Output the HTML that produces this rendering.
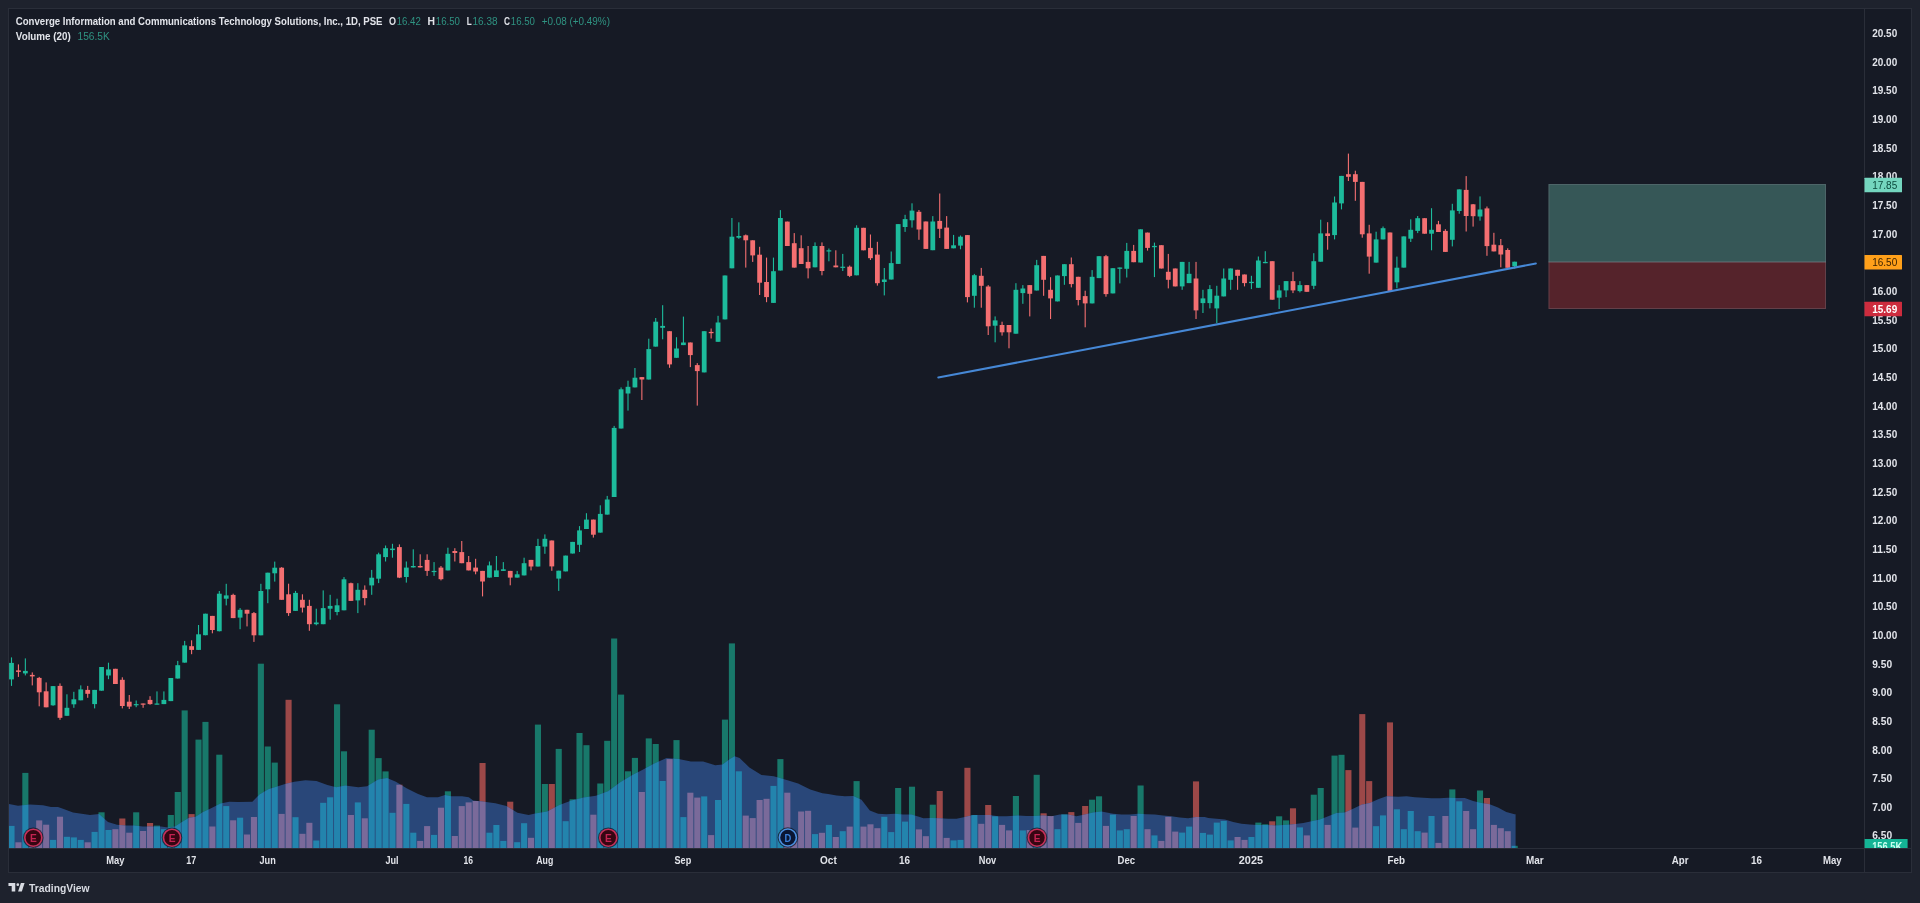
<!DOCTYPE html><html><head><meta charset="utf-8"><style>html,body{margin:0;padding:0;background:#1e222d;overflow:hidden} text{will-change:transform}</style></head><body><svg width="1920" height="903" viewBox="0 0 1920 903" style="display:block">
<rect width="1920" height="903" fill="#1e222d"/>
<rect x="8.5" y="8.5" width="1903" height="864" fill="#161a25" stroke="#2a2e39" stroke-width="1"/>
<defs><clipPath id="pane"><rect x="9" y="9" width="1856" height="839"/></clipPath>
<clipPath id="area"><polygon points="9.0,848.0 9.0,804.0 9.0,804.0 18.0,805.8 30.0,804.6 43.0,805.2 51.0,807.0 58.0,807.0 63.0,808.8 73.0,812.5 85.0,814.3 90.0,815.0 99.0,814.0 108.0,822.0 117.0,824.8 125.0,825.6 134.0,825.6 143.0,826.5 152.0,826.5 161.0,826.5 168.0,827.4 175.0,826.5 182.0,822.0 189.0,817.7 195.6,816.8 202.7,812.3 211.6,807.9 220.5,803.5 229.3,801.7 238.2,802.0 252.4,801.7 259.5,794.6 268.4,789.3 277.2,786.6 285.0,784.0 294.3,781.8 305.4,780.2 316.4,781.1 327.4,785.1 336.3,787.3 345.2,785.5 358.3,787.3 367.1,786.2 378.2,779.6 387.1,778.0 395.9,781.8 407.0,788.4 418.1,794.0 427.0,797.3 438.0,797.3 445.0,795.1 451.1,796.2 462.1,796.2 468.8,797.3 473.2,800.6 484.3,801.7 495.4,803.3 506.4,806.1 517.5,812.8 528.6,815.0 535.2,813.5 547.2,811.5 559.4,804.9 571.5,800.5 583.7,797.6 595.9,795.7 608.1,791.3 620.3,782.3 632.4,775.0 642.2,770.0 654.4,763.5 666.5,757.9 678.7,759.1 690.9,761.5 703.1,761.5 715.3,765.2 722.6,764.5 729.9,759.1 734.7,756.2 739.6,757.9 749.4,767.6 761.5,775.0 773.7,776.2 785.9,779.8 798.1,783.5 810.3,789.6 822.4,793.2 828.3,794.0 836.6,795.5 844.9,796.3 853.2,796.0 861.5,799.7 869.8,810.5 878.1,813.8 886.4,814.3 894.8,813.8 903.1,814.6 911.4,814.6 919.7,817.1 923.3,818.3 931.6,818.0 939.9,818.3 948.2,818.8 956.5,818.8 964.8,817.1 973.1,815.1 981.4,815.1 989.8,815.1 998.1,816.3 1006.4,816.3 1018.3,815.4 1026.6,816.0 1034.9,816.0 1043.2,815.4 1051.5,816.3 1059.8,814.6 1068.1,814.6 1076.4,816.3 1084.8,814.6 1093.1,812.6 1101.4,811.6 1113.3,813.8 1121.6,814.6 1129.9,814.6 1138.2,813.8 1146.5,814.2 1154.8,814.6 1163.1,815.4 1171.4,816.3 1179.8,817.6 1188.1,818.3 1196.4,817.1 1204.7,817.1 1208.3,818.0 1216.6,818.8 1224.9,819.6 1233.2,822.1 1241.5,823.8 1249.8,824.6 1258.1,824.9 1266.4,824.9 1274.8,825.4 1283.1,824.9 1291.4,824.6 1303.3,822.9 1311.6,821.3 1319.9,819.6 1328.2,816.3 1336.5,813.0 1344.8,812.6 1353.1,808.8 1361.4,804.7 1369.8,803.0 1378.1,799.3 1386.4,796.3 1398.3,796.7 1406.6,796.3 1414.9,797.2 1423.2,797.7 1431.5,798.3 1439.8,798.3 1448.1,797.7 1456.4,798.0 1464.8,798.0 1473.1,801.0 1481.4,803.0 1489.7,804.3 1498.0,807.6 1506.3,812.1 1514.6,814.3 1515.6,814.3 1515.6,848.0"/></clipPath></defs>
<g clip-path="url(#pane)">
<rect x="8.45" y="825.9" width="6.1" height="22.1" fill="#18786a"/><rect x="15.38" y="842.3" width="6.1" height="5.7" fill="#9c4848"/><rect x="22.30" y="772.9" width="6.1" height="75.1" fill="#18786a"/><rect x="29.23" y="830.0" width="6.1" height="18.0" fill="#9c4848"/><rect x="36.16" y="820.4" width="6.1" height="27.6" fill="#9c4848"/><rect x="43.09" y="824.7" width="6.1" height="23.3" fill="#9c4848"/><rect x="50.01" y="839.9" width="6.1" height="8.1" fill="#18786a"/><rect x="56.94" y="816.7" width="6.1" height="31.3" fill="#9c4848"/><rect x="63.87" y="836.8" width="6.1" height="11.2" fill="#18786a"/><rect x="70.79" y="837.4" width="6.1" height="10.6" fill="#18786a"/><rect x="77.72" y="839.9" width="6.1" height="8.1" fill="#18786a"/><rect x="84.65" y="842.3" width="6.1" height="5.7" fill="#9c4848"/><rect x="91.57" y="831.9" width="6.1" height="16.1" fill="#18786a"/><rect x="98.50" y="812.3" width="6.1" height="35.7" fill="#18786a"/><rect x="105.43" y="830.0" width="6.1" height="18.0" fill="#18786a"/><rect x="112.36" y="829.2" width="6.1" height="18.8" fill="#9c4848"/><rect x="119.28" y="818.5" width="6.1" height="29.5" fill="#9c4848"/><rect x="126.21" y="832.7" width="6.1" height="15.3" fill="#9c4848"/><rect x="133.14" y="812.3" width="6.1" height="35.7" fill="#18786a"/><rect x="140.06" y="831.0" width="6.1" height="17.0" fill="#9c4848"/><rect x="146.99" y="823.0" width="6.1" height="25.0" fill="#9c4848"/><rect x="153.92" y="825.6" width="6.1" height="22.4" fill="#18786a"/><rect x="160.84" y="829.2" width="6.1" height="18.8" fill="#18786a"/><rect x="167.77" y="815.0" width="6.1" height="33.0" fill="#18786a"/><rect x="174.70" y="792.0" width="6.1" height="56.0" fill="#18786a"/><rect x="181.62" y="710.4" width="6.1" height="137.6" fill="#18786a"/><rect x="188.55" y="814.1" width="6.1" height="33.9" fill="#9c4848"/><rect x="195.48" y="739.6" width="6.1" height="108.4" fill="#18786a"/><rect x="202.41" y="721.9" width="6.1" height="126.1" fill="#18786a"/><rect x="209.33" y="826.5" width="6.1" height="21.5" fill="#9c4848"/><rect x="216.26" y="754.7" width="6.1" height="93.3" fill="#18786a"/><rect x="223.19" y="806.1" width="6.1" height="41.9" fill="#18786a"/><rect x="230.11" y="820.3" width="6.1" height="27.7" fill="#9c4848"/><rect x="237.04" y="817.7" width="6.1" height="30.3" fill="#18786a"/><rect x="243.97" y="834.5" width="6.1" height="13.5" fill="#9c4848"/><rect x="250.89" y="817.0" width="6.1" height="31.0" fill="#9c4848"/><rect x="257.82" y="663.7" width="6.1" height="184.3" fill="#18786a"/><rect x="264.75" y="746.5" width="6.1" height="101.5" fill="#18786a"/><rect x="271.68" y="762.6" width="6.1" height="85.4" fill="#18786a"/><rect x="278.60" y="813.9" width="6.1" height="34.1" fill="#9c4848"/><rect x="285.53" y="699.8" width="6.1" height="148.2" fill="#9c4848"/><rect x="292.46" y="817.2" width="6.1" height="30.8" fill="#18786a"/><rect x="299.38" y="833.8" width="6.1" height="14.2" fill="#9c4848"/><rect x="306.31" y="822.8" width="6.1" height="25.2" fill="#9c4848"/><rect x="313.24" y="840.5" width="6.1" height="7.5" fill="#18786a"/><rect x="320.16" y="802.8" width="6.1" height="45.2" fill="#18786a"/><rect x="327.09" y="797.3" width="6.1" height="50.7" fill="#18786a"/><rect x="334.02" y="704.3" width="6.1" height="143.7" fill="#18786a"/><rect x="340.95" y="751.3" width="6.1" height="96.7" fill="#18786a"/><rect x="347.87" y="815.0" width="6.1" height="33.0" fill="#9c4848"/><rect x="354.80" y="802.4" width="6.1" height="45.6" fill="#18786a"/><rect x="361.73" y="818.3" width="6.1" height="29.7" fill="#9c4848"/><rect x="368.65" y="729.7" width="6.1" height="118.3" fill="#18786a"/><rect x="375.58" y="758.1" width="6.1" height="89.9" fill="#18786a"/><rect x="382.51" y="771.4" width="6.1" height="76.6" fill="#18786a"/><rect x="389.43" y="812.8" width="6.1" height="35.2" fill="#18786a"/><rect x="396.36" y="784.7" width="6.1" height="63.3" fill="#9c4848"/><rect x="403.29" y="803.9" width="6.1" height="44.1" fill="#18786a"/><rect x="410.22" y="832.7" width="6.1" height="15.3" fill="#18786a"/><rect x="417.14" y="840.9" width="6.1" height="7.1" fill="#9c4848"/><rect x="424.07" y="826.1" width="6.1" height="21.9" fill="#9c4848"/><rect x="431.00" y="834.9" width="6.1" height="13.1" fill="#18786a"/><rect x="437.92" y="807.7" width="6.1" height="40.3" fill="#9c4848"/><rect x="444.85" y="791.3" width="6.1" height="56.7" fill="#18786a"/><rect x="451.78" y="836.0" width="6.1" height="12.0" fill="#9c4848"/><rect x="458.70" y="806.1" width="6.1" height="41.9" fill="#9c4848"/><rect x="465.63" y="802.4" width="6.1" height="45.6" fill="#9c4848"/><rect x="472.56" y="801.0" width="6.1" height="47.0" fill="#9c4848"/><rect x="479.49" y="763.0" width="6.1" height="85.0" fill="#9c4848"/><rect x="486.41" y="832.7" width="6.1" height="15.3" fill="#18786a"/><rect x="493.34" y="825.0" width="6.1" height="23.0" fill="#18786a"/><rect x="500.27" y="840.9" width="6.1" height="7.1" fill="#18786a"/><rect x="507.19" y="801.7" width="6.1" height="46.3" fill="#9c4848"/><rect x="514.12" y="842.2" width="6.1" height="5.8" fill="#18786a"/><rect x="521.05" y="823.2" width="6.1" height="24.8" fill="#18786a"/><rect x="527.98" y="837.8" width="6.1" height="10.2" fill="#9c4848"/><rect x="534.90" y="724.6" width="6.1" height="123.4" fill="#18786a"/><rect x="541.83" y="784.0" width="6.1" height="64.0" fill="#18786a"/><rect x="548.76" y="784.0" width="6.1" height="64.0" fill="#9c4848"/><rect x="555.68" y="748.9" width="6.1" height="99.1" fill="#18786a"/><rect x="562.61" y="821.2" width="6.1" height="26.8" fill="#18786a"/><rect x="569.54" y="799.3" width="6.1" height="48.7" fill="#18786a"/><rect x="576.46" y="733.0" width="6.1" height="115.0" fill="#18786a"/><rect x="583.39" y="745.2" width="6.1" height="102.8" fill="#18786a"/><rect x="590.32" y="814.7" width="6.1" height="33.3" fill="#9c4848"/><rect x="597.25" y="783.5" width="6.1" height="64.5" fill="#18786a"/><rect x="604.17" y="740.8" width="6.1" height="107.2" fill="#18786a"/><rect x="611.10" y="638.5" width="6.1" height="209.5" fill="#18786a"/><rect x="618.03" y="694.6" width="6.1" height="153.4" fill="#18786a"/><rect x="624.95" y="771.3" width="6.1" height="76.7" fill="#18786a"/><rect x="631.88" y="757.9" width="6.1" height="90.1" fill="#18786a"/><rect x="638.81" y="792.0" width="6.1" height="56.0" fill="#9c4848"/><rect x="645.73" y="738.4" width="6.1" height="109.6" fill="#18786a"/><rect x="652.66" y="744.0" width="6.1" height="104.0" fill="#18786a"/><rect x="659.59" y="781.0" width="6.1" height="67.0" fill="#18786a"/><rect x="666.51" y="759.1" width="6.1" height="88.9" fill="#9c4848"/><rect x="673.44" y="740.1" width="6.1" height="107.9" fill="#18786a"/><rect x="680.37" y="817.1" width="6.1" height="30.9" fill="#18786a"/><rect x="687.30" y="792.7" width="6.1" height="55.3" fill="#9c4848"/><rect x="694.22" y="797.6" width="6.1" height="50.4" fill="#9c4848"/><rect x="701.15" y="796.4" width="6.1" height="51.6" fill="#18786a"/><rect x="708.08" y="835.1" width="6.1" height="12.9" fill="#9c4848"/><rect x="715.00" y="800.0" width="6.1" height="48.0" fill="#18786a"/><rect x="721.93" y="719.6" width="6.1" height="128.4" fill="#18786a"/><rect x="728.86" y="643.4" width="6.1" height="204.6" fill="#18786a"/><rect x="735.78" y="771.3" width="6.1" height="76.7" fill="#18786a"/><rect x="742.71" y="815.6" width="6.1" height="32.4" fill="#9c4848"/><rect x="749.64" y="818.1" width="6.1" height="29.9" fill="#9c4848"/><rect x="756.57" y="800.0" width="6.1" height="48.0" fill="#9c4848"/><rect x="763.49" y="798.8" width="6.1" height="49.2" fill="#9c4848"/><rect x="770.42" y="785.9" width="6.1" height="62.1" fill="#18786a"/><rect x="777.35" y="759.1" width="6.1" height="88.9" fill="#18786a"/><rect x="784.27" y="792.7" width="6.1" height="55.3" fill="#9c4848"/><rect x="791.20" y="838.0" width="6.1" height="10.0" fill="#9c4848"/><rect x="798.13" y="811.5" width="6.1" height="36.5" fill="#9c4848"/><rect x="805.05" y="810.8" width="6.1" height="37.2" fill="#9c4848"/><rect x="811.98" y="834.1" width="6.1" height="13.9" fill="#18786a"/><rect x="818.91" y="832.8" width="6.1" height="15.2" fill="#9c4848"/><rect x="825.84" y="824.9" width="6.1" height="23.1" fill="#18786a"/><rect x="832.76" y="837.0" width="6.1" height="11.0" fill="#9c4848"/><rect x="839.69" y="831.2" width="6.1" height="16.8" fill="#18786a"/><rect x="846.62" y="826.6" width="6.1" height="21.4" fill="#9c4848"/><rect x="853.54" y="781.1" width="6.1" height="66.9" fill="#18786a"/><rect x="860.47" y="826.6" width="6.1" height="21.4" fill="#9c4848"/><rect x="867.40" y="824.3" width="6.1" height="23.7" fill="#9c4848"/><rect x="874.33" y="828.2" width="6.1" height="19.8" fill="#9c4848"/><rect x="881.25" y="816.8" width="6.1" height="31.2" fill="#18786a"/><rect x="888.18" y="832.1" width="6.1" height="15.9" fill="#18786a"/><rect x="895.11" y="788.0" width="6.1" height="60.0" fill="#18786a"/><rect x="902.03" y="821.6" width="6.1" height="26.4" fill="#18786a"/><rect x="908.96" y="786.7" width="6.1" height="61.3" fill="#18786a"/><rect x="915.89" y="829.4" width="6.1" height="18.6" fill="#9c4848"/><rect x="922.81" y="836.2" width="6.1" height="11.8" fill="#9c4848"/><rect x="929.74" y="804.7" width="6.1" height="43.3" fill="#18786a"/><rect x="936.67" y="791.0" width="6.1" height="57.0" fill="#9c4848"/><rect x="943.60" y="837.9" width="6.1" height="10.1" fill="#9c4848"/><rect x="950.52" y="840.4" width="6.1" height="7.6" fill="#18786a"/><rect x="957.45" y="839.9" width="6.1" height="8.1" fill="#18786a"/><rect x="964.38" y="767.8" width="6.1" height="80.2" fill="#9c4848"/><rect x="971.30" y="815.0" width="6.1" height="33.0" fill="#18786a"/><rect x="978.23" y="823.8" width="6.1" height="24.2" fill="#9c4848"/><rect x="985.16" y="805.0" width="6.1" height="43.0" fill="#9c4848"/><rect x="992.08" y="816.3" width="6.1" height="31.7" fill="#18786a"/><rect x="999.01" y="824.9" width="6.1" height="23.1" fill="#9c4848"/><rect x="1005.94" y="830.4" width="6.1" height="17.6" fill="#9c4848"/><rect x="1012.87" y="796.0" width="6.1" height="52.0" fill="#18786a"/><rect x="1019.79" y="830.4" width="6.1" height="17.6" fill="#18786a"/><rect x="1026.72" y="830.0" width="6.1" height="18.0" fill="#9c4848"/><rect x="1033.65" y="774.8" width="6.1" height="73.2" fill="#18786a"/><rect x="1040.57" y="813.3" width="6.1" height="34.7" fill="#9c4848"/><rect x="1047.50" y="816.0" width="6.1" height="32.0" fill="#9c4848"/><rect x="1054.43" y="829.2" width="6.1" height="18.8" fill="#18786a"/><rect x="1061.35" y="814.3" width="6.1" height="33.7" fill="#18786a"/><rect x="1068.28" y="812.1" width="6.1" height="35.9" fill="#9c4848"/><rect x="1075.21" y="822.9" width="6.1" height="25.1" fill="#9c4848"/><rect x="1082.13" y="806.0" width="6.1" height="42.0" fill="#9c4848"/><rect x="1089.06" y="799.7" width="6.1" height="48.3" fill="#18786a"/><rect x="1095.99" y="796.3" width="6.1" height="51.7" fill="#18786a"/><rect x="1102.92" y="825.9" width="6.1" height="22.1" fill="#9c4848"/><rect x="1109.84" y="814.6" width="6.1" height="33.4" fill="#18786a"/><rect x="1116.77" y="830.4" width="6.1" height="17.6" fill="#18786a"/><rect x="1123.70" y="829.2" width="6.1" height="18.8" fill="#18786a"/><rect x="1130.62" y="816.0" width="6.1" height="32.0" fill="#9c4848"/><rect x="1137.55" y="785.5" width="6.1" height="62.5" fill="#18786a"/><rect x="1144.48" y="829.2" width="6.1" height="18.8" fill="#9c4848"/><rect x="1151.40" y="835.4" width="6.1" height="12.6" fill="#18786a"/><rect x="1158.33" y="840.9" width="6.1" height="7.1" fill="#9c4848"/><rect x="1165.26" y="816.8" width="6.1" height="31.2" fill="#9c4848"/><rect x="1172.19" y="831.6" width="6.1" height="16.4" fill="#9c4848"/><rect x="1179.11" y="832.6" width="6.1" height="15.4" fill="#18786a"/><rect x="1186.04" y="826.6" width="6.1" height="21.4" fill="#18786a"/><rect x="1192.97" y="781.4" width="6.1" height="66.6" fill="#9c4848"/><rect x="1199.89" y="832.9" width="6.1" height="15.1" fill="#18786a"/><rect x="1206.82" y="834.6" width="6.1" height="13.4" fill="#18786a"/><rect x="1213.75" y="822.6" width="6.1" height="25.4" fill="#18786a"/><rect x="1220.67" y="820.9" width="6.1" height="27.1" fill="#18786a"/><rect x="1227.60" y="840.4" width="6.1" height="7.6" fill="#18786a"/><rect x="1234.53" y="837.0" width="6.1" height="11.0" fill="#9c4848"/><rect x="1241.46" y="839.9" width="6.1" height="8.1" fill="#9c4848"/><rect x="1248.38" y="837.0" width="6.1" height="11.0" fill="#18786a"/><rect x="1255.31" y="822.6" width="6.1" height="25.4" fill="#18786a"/><rect x="1262.24" y="824.3" width="6.1" height="23.7" fill="#18786a"/><rect x="1269.16" y="821.3" width="6.1" height="26.7" fill="#9c4848"/><rect x="1276.09" y="816.3" width="6.1" height="31.7" fill="#18786a"/><rect x="1283.02" y="820.4" width="6.1" height="27.6" fill="#18786a"/><rect x="1289.94" y="808.3" width="6.1" height="39.7" fill="#9c4848"/><rect x="1296.87" y="827.4" width="6.1" height="20.6" fill="#18786a"/><rect x="1303.80" y="835.4" width="6.1" height="12.6" fill="#9c4848"/><rect x="1310.73" y="794.7" width="6.1" height="53.3" fill="#18786a"/><rect x="1317.65" y="788.0" width="6.1" height="60.0" fill="#18786a"/><rect x="1324.58" y="824.9" width="6.1" height="23.1" fill="#9c4848"/><rect x="1331.51" y="755.6" width="6.1" height="92.4" fill="#18786a"/><rect x="1338.43" y="754.8" width="6.1" height="93.2" fill="#18786a"/><rect x="1345.36" y="770.1" width="6.1" height="77.9" fill="#9c4848"/><rect x="1352.29" y="827.6" width="6.1" height="20.4" fill="#9c4848"/><rect x="1359.21" y="714.1" width="6.1" height="133.9" fill="#9c4848"/><rect x="1366.14" y="781.1" width="6.1" height="66.9" fill="#9c4848"/><rect x="1373.07" y="826.2" width="6.1" height="21.8" fill="#18786a"/><rect x="1380.00" y="815.4" width="6.1" height="32.6" fill="#18786a"/><rect x="1386.92" y="722.4" width="6.1" height="125.6" fill="#9c4848"/><rect x="1393.85" y="809.3" width="6.1" height="38.7" fill="#18786a"/><rect x="1400.78" y="829.2" width="6.1" height="18.8" fill="#18786a"/><rect x="1407.70" y="811.0" width="6.1" height="37.0" fill="#18786a"/><rect x="1414.63" y="831.2" width="6.1" height="16.8" fill="#18786a"/><rect x="1421.56" y="832.6" width="6.1" height="15.4" fill="#9c4848"/><rect x="1428.48" y="816.0" width="6.1" height="32.0" fill="#18786a"/><rect x="1435.41" y="842.9" width="6.1" height="5.1" fill="#9c4848"/><rect x="1442.34" y="816.0" width="6.1" height="32.0" fill="#9c4848"/><rect x="1449.27" y="789.4" width="6.1" height="58.6" fill="#18786a"/><rect x="1456.19" y="801.3" width="6.1" height="46.7" fill="#18786a"/><rect x="1463.12" y="811.0" width="6.1" height="37.0" fill="#9c4848"/><rect x="1470.05" y="829.2" width="6.1" height="18.8" fill="#9c4848"/><rect x="1476.97" y="790.5" width="6.1" height="57.5" fill="#18786a"/><rect x="1483.90" y="798.0" width="6.1" height="50.0" fill="#9c4848"/><rect x="1490.83" y="824.9" width="6.1" height="23.1" fill="#9c4848"/><rect x="1497.75" y="828.2" width="6.1" height="19.8" fill="#9c4848"/><rect x="1504.68" y="831.2" width="6.1" height="16.8" fill="#9c4848"/><rect x="1511.61" y="845.8" width="6.1" height="2.2" fill="#18786a"/>
<polygon points="9.0,848.0 9.0,804.0 9.0,804.0 18.0,805.8 30.0,804.6 43.0,805.2 51.0,807.0 58.0,807.0 63.0,808.8 73.0,812.5 85.0,814.3 90.0,815.0 99.0,814.0 108.0,822.0 117.0,824.8 125.0,825.6 134.0,825.6 143.0,826.5 152.0,826.5 161.0,826.5 168.0,827.4 175.0,826.5 182.0,822.0 189.0,817.7 195.6,816.8 202.7,812.3 211.6,807.9 220.5,803.5 229.3,801.7 238.2,802.0 252.4,801.7 259.5,794.6 268.4,789.3 277.2,786.6 285.0,784.0 294.3,781.8 305.4,780.2 316.4,781.1 327.4,785.1 336.3,787.3 345.2,785.5 358.3,787.3 367.1,786.2 378.2,779.6 387.1,778.0 395.9,781.8 407.0,788.4 418.1,794.0 427.0,797.3 438.0,797.3 445.0,795.1 451.1,796.2 462.1,796.2 468.8,797.3 473.2,800.6 484.3,801.7 495.4,803.3 506.4,806.1 517.5,812.8 528.6,815.0 535.2,813.5 547.2,811.5 559.4,804.9 571.5,800.5 583.7,797.6 595.9,795.7 608.1,791.3 620.3,782.3 632.4,775.0 642.2,770.0 654.4,763.5 666.5,757.9 678.7,759.1 690.9,761.5 703.1,761.5 715.3,765.2 722.6,764.5 729.9,759.1 734.7,756.2 739.6,757.9 749.4,767.6 761.5,775.0 773.7,776.2 785.9,779.8 798.1,783.5 810.3,789.6 822.4,793.2 828.3,794.0 836.6,795.5 844.9,796.3 853.2,796.0 861.5,799.7 869.8,810.5 878.1,813.8 886.4,814.3 894.8,813.8 903.1,814.6 911.4,814.6 919.7,817.1 923.3,818.3 931.6,818.0 939.9,818.3 948.2,818.8 956.5,818.8 964.8,817.1 973.1,815.1 981.4,815.1 989.8,815.1 998.1,816.3 1006.4,816.3 1018.3,815.4 1026.6,816.0 1034.9,816.0 1043.2,815.4 1051.5,816.3 1059.8,814.6 1068.1,814.6 1076.4,816.3 1084.8,814.6 1093.1,812.6 1101.4,811.6 1113.3,813.8 1121.6,814.6 1129.9,814.6 1138.2,813.8 1146.5,814.2 1154.8,814.6 1163.1,815.4 1171.4,816.3 1179.8,817.6 1188.1,818.3 1196.4,817.1 1204.7,817.1 1208.3,818.0 1216.6,818.8 1224.9,819.6 1233.2,822.1 1241.5,823.8 1249.8,824.6 1258.1,824.9 1266.4,824.9 1274.8,825.4 1283.1,824.9 1291.4,824.6 1303.3,822.9 1311.6,821.3 1319.9,819.6 1328.2,816.3 1336.5,813.0 1344.8,812.6 1353.1,808.8 1361.4,804.7 1369.8,803.0 1378.1,799.3 1386.4,796.3 1398.3,796.7 1406.6,796.3 1414.9,797.2 1423.2,797.7 1431.5,798.3 1439.8,798.3 1448.1,797.7 1456.4,798.0 1464.8,798.0 1473.1,801.0 1481.4,803.0 1489.7,804.3 1498.0,807.6 1506.3,812.1 1514.6,814.3 1515.6,814.3 1515.6,848.0" fill="#294779"/>
<g clip-path="url(#area)"><rect x="8.45" y="825.9" width="6.1" height="22.1" fill="#2384ad"/><rect x="15.38" y="842.3" width="6.1" height="5.7" fill="#7a6a9a"/><rect x="22.30" y="772.9" width="6.1" height="75.1" fill="#2384ad"/><rect x="29.23" y="830.0" width="6.1" height="18.0" fill="#7a6a9a"/><rect x="36.16" y="820.4" width="6.1" height="27.6" fill="#7a6a9a"/><rect x="43.09" y="824.7" width="6.1" height="23.3" fill="#7a6a9a"/><rect x="50.01" y="839.9" width="6.1" height="8.1" fill="#2384ad"/><rect x="56.94" y="816.7" width="6.1" height="31.3" fill="#7a6a9a"/><rect x="63.87" y="836.8" width="6.1" height="11.2" fill="#2384ad"/><rect x="70.79" y="837.4" width="6.1" height="10.6" fill="#2384ad"/><rect x="77.72" y="839.9" width="6.1" height="8.1" fill="#2384ad"/><rect x="84.65" y="842.3" width="6.1" height="5.7" fill="#7a6a9a"/><rect x="91.57" y="831.9" width="6.1" height="16.1" fill="#2384ad"/><rect x="98.50" y="812.3" width="6.1" height="35.7" fill="#2384ad"/><rect x="105.43" y="830.0" width="6.1" height="18.0" fill="#2384ad"/><rect x="112.36" y="829.2" width="6.1" height="18.8" fill="#7a6a9a"/><rect x="119.28" y="818.5" width="6.1" height="29.5" fill="#7a6a9a"/><rect x="126.21" y="832.7" width="6.1" height="15.3" fill="#7a6a9a"/><rect x="133.14" y="812.3" width="6.1" height="35.7" fill="#2384ad"/><rect x="140.06" y="831.0" width="6.1" height="17.0" fill="#7a6a9a"/><rect x="146.99" y="823.0" width="6.1" height="25.0" fill="#7a6a9a"/><rect x="153.92" y="825.6" width="6.1" height="22.4" fill="#2384ad"/><rect x="160.84" y="829.2" width="6.1" height="18.8" fill="#2384ad"/><rect x="167.77" y="815.0" width="6.1" height="33.0" fill="#2384ad"/><rect x="174.70" y="792.0" width="6.1" height="56.0" fill="#2384ad"/><rect x="181.62" y="710.4" width="6.1" height="137.6" fill="#2384ad"/><rect x="188.55" y="814.1" width="6.1" height="33.9" fill="#7a6a9a"/><rect x="195.48" y="739.6" width="6.1" height="108.4" fill="#2384ad"/><rect x="202.41" y="721.9" width="6.1" height="126.1" fill="#2384ad"/><rect x="209.33" y="826.5" width="6.1" height="21.5" fill="#7a6a9a"/><rect x="216.26" y="754.7" width="6.1" height="93.3" fill="#2384ad"/><rect x="223.19" y="806.1" width="6.1" height="41.9" fill="#2384ad"/><rect x="230.11" y="820.3" width="6.1" height="27.7" fill="#7a6a9a"/><rect x="237.04" y="817.7" width="6.1" height="30.3" fill="#2384ad"/><rect x="243.97" y="834.5" width="6.1" height="13.5" fill="#7a6a9a"/><rect x="250.89" y="817.0" width="6.1" height="31.0" fill="#7a6a9a"/><rect x="257.82" y="663.7" width="6.1" height="184.3" fill="#2384ad"/><rect x="264.75" y="746.5" width="6.1" height="101.5" fill="#2384ad"/><rect x="271.68" y="762.6" width="6.1" height="85.4" fill="#2384ad"/><rect x="278.60" y="813.9" width="6.1" height="34.1" fill="#7a6a9a"/><rect x="285.53" y="699.8" width="6.1" height="148.2" fill="#7a6a9a"/><rect x="292.46" y="817.2" width="6.1" height="30.8" fill="#2384ad"/><rect x="299.38" y="833.8" width="6.1" height="14.2" fill="#7a6a9a"/><rect x="306.31" y="822.8" width="6.1" height="25.2" fill="#7a6a9a"/><rect x="313.24" y="840.5" width="6.1" height="7.5" fill="#2384ad"/><rect x="320.16" y="802.8" width="6.1" height="45.2" fill="#2384ad"/><rect x="327.09" y="797.3" width="6.1" height="50.7" fill="#2384ad"/><rect x="334.02" y="704.3" width="6.1" height="143.7" fill="#2384ad"/><rect x="340.95" y="751.3" width="6.1" height="96.7" fill="#2384ad"/><rect x="347.87" y="815.0" width="6.1" height="33.0" fill="#7a6a9a"/><rect x="354.80" y="802.4" width="6.1" height="45.6" fill="#2384ad"/><rect x="361.73" y="818.3" width="6.1" height="29.7" fill="#7a6a9a"/><rect x="368.65" y="729.7" width="6.1" height="118.3" fill="#2384ad"/><rect x="375.58" y="758.1" width="6.1" height="89.9" fill="#2384ad"/><rect x="382.51" y="771.4" width="6.1" height="76.6" fill="#2384ad"/><rect x="389.43" y="812.8" width="6.1" height="35.2" fill="#2384ad"/><rect x="396.36" y="784.7" width="6.1" height="63.3" fill="#7a6a9a"/><rect x="403.29" y="803.9" width="6.1" height="44.1" fill="#2384ad"/><rect x="410.22" y="832.7" width="6.1" height="15.3" fill="#2384ad"/><rect x="417.14" y="840.9" width="6.1" height="7.1" fill="#7a6a9a"/><rect x="424.07" y="826.1" width="6.1" height="21.9" fill="#7a6a9a"/><rect x="431.00" y="834.9" width="6.1" height="13.1" fill="#2384ad"/><rect x="437.92" y="807.7" width="6.1" height="40.3" fill="#7a6a9a"/><rect x="444.85" y="791.3" width="6.1" height="56.7" fill="#2384ad"/><rect x="451.78" y="836.0" width="6.1" height="12.0" fill="#7a6a9a"/><rect x="458.70" y="806.1" width="6.1" height="41.9" fill="#7a6a9a"/><rect x="465.63" y="802.4" width="6.1" height="45.6" fill="#7a6a9a"/><rect x="472.56" y="801.0" width="6.1" height="47.0" fill="#7a6a9a"/><rect x="479.49" y="763.0" width="6.1" height="85.0" fill="#7a6a9a"/><rect x="486.41" y="832.7" width="6.1" height="15.3" fill="#2384ad"/><rect x="493.34" y="825.0" width="6.1" height="23.0" fill="#2384ad"/><rect x="500.27" y="840.9" width="6.1" height="7.1" fill="#2384ad"/><rect x="507.19" y="801.7" width="6.1" height="46.3" fill="#7a6a9a"/><rect x="514.12" y="842.2" width="6.1" height="5.8" fill="#2384ad"/><rect x="521.05" y="823.2" width="6.1" height="24.8" fill="#2384ad"/><rect x="527.98" y="837.8" width="6.1" height="10.2" fill="#7a6a9a"/><rect x="534.90" y="724.6" width="6.1" height="123.4" fill="#2384ad"/><rect x="541.83" y="784.0" width="6.1" height="64.0" fill="#2384ad"/><rect x="548.76" y="784.0" width="6.1" height="64.0" fill="#7a6a9a"/><rect x="555.68" y="748.9" width="6.1" height="99.1" fill="#2384ad"/><rect x="562.61" y="821.2" width="6.1" height="26.8" fill="#2384ad"/><rect x="569.54" y="799.3" width="6.1" height="48.7" fill="#2384ad"/><rect x="576.46" y="733.0" width="6.1" height="115.0" fill="#2384ad"/><rect x="583.39" y="745.2" width="6.1" height="102.8" fill="#2384ad"/><rect x="590.32" y="814.7" width="6.1" height="33.3" fill="#7a6a9a"/><rect x="597.25" y="783.5" width="6.1" height="64.5" fill="#2384ad"/><rect x="604.17" y="740.8" width="6.1" height="107.2" fill="#2384ad"/><rect x="611.10" y="638.5" width="6.1" height="209.5" fill="#2384ad"/><rect x="618.03" y="694.6" width="6.1" height="153.4" fill="#2384ad"/><rect x="624.95" y="771.3" width="6.1" height="76.7" fill="#2384ad"/><rect x="631.88" y="757.9" width="6.1" height="90.1" fill="#2384ad"/><rect x="638.81" y="792.0" width="6.1" height="56.0" fill="#7a6a9a"/><rect x="645.73" y="738.4" width="6.1" height="109.6" fill="#2384ad"/><rect x="652.66" y="744.0" width="6.1" height="104.0" fill="#2384ad"/><rect x="659.59" y="781.0" width="6.1" height="67.0" fill="#2384ad"/><rect x="666.51" y="759.1" width="6.1" height="88.9" fill="#7a6a9a"/><rect x="673.44" y="740.1" width="6.1" height="107.9" fill="#2384ad"/><rect x="680.37" y="817.1" width="6.1" height="30.9" fill="#2384ad"/><rect x="687.30" y="792.7" width="6.1" height="55.3" fill="#7a6a9a"/><rect x="694.22" y="797.6" width="6.1" height="50.4" fill="#7a6a9a"/><rect x="701.15" y="796.4" width="6.1" height="51.6" fill="#2384ad"/><rect x="708.08" y="835.1" width="6.1" height="12.9" fill="#7a6a9a"/><rect x="715.00" y="800.0" width="6.1" height="48.0" fill="#2384ad"/><rect x="721.93" y="719.6" width="6.1" height="128.4" fill="#2384ad"/><rect x="728.86" y="643.4" width="6.1" height="204.6" fill="#2384ad"/><rect x="735.78" y="771.3" width="6.1" height="76.7" fill="#2384ad"/><rect x="742.71" y="815.6" width="6.1" height="32.4" fill="#7a6a9a"/><rect x="749.64" y="818.1" width="6.1" height="29.9" fill="#7a6a9a"/><rect x="756.57" y="800.0" width="6.1" height="48.0" fill="#7a6a9a"/><rect x="763.49" y="798.8" width="6.1" height="49.2" fill="#7a6a9a"/><rect x="770.42" y="785.9" width="6.1" height="62.1" fill="#2384ad"/><rect x="777.35" y="759.1" width="6.1" height="88.9" fill="#2384ad"/><rect x="784.27" y="792.7" width="6.1" height="55.3" fill="#7a6a9a"/><rect x="791.20" y="838.0" width="6.1" height="10.0" fill="#7a6a9a"/><rect x="798.13" y="811.5" width="6.1" height="36.5" fill="#7a6a9a"/><rect x="805.05" y="810.8" width="6.1" height="37.2" fill="#7a6a9a"/><rect x="811.98" y="834.1" width="6.1" height="13.9" fill="#2384ad"/><rect x="818.91" y="832.8" width="6.1" height="15.2" fill="#7a6a9a"/><rect x="825.84" y="824.9" width="6.1" height="23.1" fill="#2384ad"/><rect x="832.76" y="837.0" width="6.1" height="11.0" fill="#7a6a9a"/><rect x="839.69" y="831.2" width="6.1" height="16.8" fill="#2384ad"/><rect x="846.62" y="826.6" width="6.1" height="21.4" fill="#7a6a9a"/><rect x="853.54" y="781.1" width="6.1" height="66.9" fill="#2384ad"/><rect x="860.47" y="826.6" width="6.1" height="21.4" fill="#7a6a9a"/><rect x="867.40" y="824.3" width="6.1" height="23.7" fill="#7a6a9a"/><rect x="874.33" y="828.2" width="6.1" height="19.8" fill="#7a6a9a"/><rect x="881.25" y="816.8" width="6.1" height="31.2" fill="#2384ad"/><rect x="888.18" y="832.1" width="6.1" height="15.9" fill="#2384ad"/><rect x="895.11" y="788.0" width="6.1" height="60.0" fill="#2384ad"/><rect x="902.03" y="821.6" width="6.1" height="26.4" fill="#2384ad"/><rect x="908.96" y="786.7" width="6.1" height="61.3" fill="#2384ad"/><rect x="915.89" y="829.4" width="6.1" height="18.6" fill="#7a6a9a"/><rect x="922.81" y="836.2" width="6.1" height="11.8" fill="#7a6a9a"/><rect x="929.74" y="804.7" width="6.1" height="43.3" fill="#2384ad"/><rect x="936.67" y="791.0" width="6.1" height="57.0" fill="#7a6a9a"/><rect x="943.60" y="837.9" width="6.1" height="10.1" fill="#7a6a9a"/><rect x="950.52" y="840.4" width="6.1" height="7.6" fill="#2384ad"/><rect x="957.45" y="839.9" width="6.1" height="8.1" fill="#2384ad"/><rect x="964.38" y="767.8" width="6.1" height="80.2" fill="#7a6a9a"/><rect x="971.30" y="815.0" width="6.1" height="33.0" fill="#2384ad"/><rect x="978.23" y="823.8" width="6.1" height="24.2" fill="#7a6a9a"/><rect x="985.16" y="805.0" width="6.1" height="43.0" fill="#7a6a9a"/><rect x="992.08" y="816.3" width="6.1" height="31.7" fill="#2384ad"/><rect x="999.01" y="824.9" width="6.1" height="23.1" fill="#7a6a9a"/><rect x="1005.94" y="830.4" width="6.1" height="17.6" fill="#7a6a9a"/><rect x="1012.87" y="796.0" width="6.1" height="52.0" fill="#2384ad"/><rect x="1019.79" y="830.4" width="6.1" height="17.6" fill="#2384ad"/><rect x="1026.72" y="830.0" width="6.1" height="18.0" fill="#7a6a9a"/><rect x="1033.65" y="774.8" width="6.1" height="73.2" fill="#2384ad"/><rect x="1040.57" y="813.3" width="6.1" height="34.7" fill="#7a6a9a"/><rect x="1047.50" y="816.0" width="6.1" height="32.0" fill="#7a6a9a"/><rect x="1054.43" y="829.2" width="6.1" height="18.8" fill="#2384ad"/><rect x="1061.35" y="814.3" width="6.1" height="33.7" fill="#2384ad"/><rect x="1068.28" y="812.1" width="6.1" height="35.9" fill="#7a6a9a"/><rect x="1075.21" y="822.9" width="6.1" height="25.1" fill="#7a6a9a"/><rect x="1082.13" y="806.0" width="6.1" height="42.0" fill="#7a6a9a"/><rect x="1089.06" y="799.7" width="6.1" height="48.3" fill="#2384ad"/><rect x="1095.99" y="796.3" width="6.1" height="51.7" fill="#2384ad"/><rect x="1102.92" y="825.9" width="6.1" height="22.1" fill="#7a6a9a"/><rect x="1109.84" y="814.6" width="6.1" height="33.4" fill="#2384ad"/><rect x="1116.77" y="830.4" width="6.1" height="17.6" fill="#2384ad"/><rect x="1123.70" y="829.2" width="6.1" height="18.8" fill="#2384ad"/><rect x="1130.62" y="816.0" width="6.1" height="32.0" fill="#7a6a9a"/><rect x="1137.55" y="785.5" width="6.1" height="62.5" fill="#2384ad"/><rect x="1144.48" y="829.2" width="6.1" height="18.8" fill="#7a6a9a"/><rect x="1151.40" y="835.4" width="6.1" height="12.6" fill="#2384ad"/><rect x="1158.33" y="840.9" width="6.1" height="7.1" fill="#7a6a9a"/><rect x="1165.26" y="816.8" width="6.1" height="31.2" fill="#7a6a9a"/><rect x="1172.19" y="831.6" width="6.1" height="16.4" fill="#7a6a9a"/><rect x="1179.11" y="832.6" width="6.1" height="15.4" fill="#2384ad"/><rect x="1186.04" y="826.6" width="6.1" height="21.4" fill="#2384ad"/><rect x="1192.97" y="781.4" width="6.1" height="66.6" fill="#7a6a9a"/><rect x="1199.89" y="832.9" width="6.1" height="15.1" fill="#2384ad"/><rect x="1206.82" y="834.6" width="6.1" height="13.4" fill="#2384ad"/><rect x="1213.75" y="822.6" width="6.1" height="25.4" fill="#2384ad"/><rect x="1220.67" y="820.9" width="6.1" height="27.1" fill="#2384ad"/><rect x="1227.60" y="840.4" width="6.1" height="7.6" fill="#2384ad"/><rect x="1234.53" y="837.0" width="6.1" height="11.0" fill="#7a6a9a"/><rect x="1241.46" y="839.9" width="6.1" height="8.1" fill="#7a6a9a"/><rect x="1248.38" y="837.0" width="6.1" height="11.0" fill="#2384ad"/><rect x="1255.31" y="822.6" width="6.1" height="25.4" fill="#2384ad"/><rect x="1262.24" y="824.3" width="6.1" height="23.7" fill="#2384ad"/><rect x="1269.16" y="821.3" width="6.1" height="26.7" fill="#7a6a9a"/><rect x="1276.09" y="816.3" width="6.1" height="31.7" fill="#2384ad"/><rect x="1283.02" y="820.4" width="6.1" height="27.6" fill="#2384ad"/><rect x="1289.94" y="808.3" width="6.1" height="39.7" fill="#7a6a9a"/><rect x="1296.87" y="827.4" width="6.1" height="20.6" fill="#2384ad"/><rect x="1303.80" y="835.4" width="6.1" height="12.6" fill="#7a6a9a"/><rect x="1310.73" y="794.7" width="6.1" height="53.3" fill="#2384ad"/><rect x="1317.65" y="788.0" width="6.1" height="60.0" fill="#2384ad"/><rect x="1324.58" y="824.9" width="6.1" height="23.1" fill="#7a6a9a"/><rect x="1331.51" y="755.6" width="6.1" height="92.4" fill="#2384ad"/><rect x="1338.43" y="754.8" width="6.1" height="93.2" fill="#2384ad"/><rect x="1345.36" y="770.1" width="6.1" height="77.9" fill="#7a6a9a"/><rect x="1352.29" y="827.6" width="6.1" height="20.4" fill="#7a6a9a"/><rect x="1359.21" y="714.1" width="6.1" height="133.9" fill="#7a6a9a"/><rect x="1366.14" y="781.1" width="6.1" height="66.9" fill="#7a6a9a"/><rect x="1373.07" y="826.2" width="6.1" height="21.8" fill="#2384ad"/><rect x="1380.00" y="815.4" width="6.1" height="32.6" fill="#2384ad"/><rect x="1386.92" y="722.4" width="6.1" height="125.6" fill="#7a6a9a"/><rect x="1393.85" y="809.3" width="6.1" height="38.7" fill="#2384ad"/><rect x="1400.78" y="829.2" width="6.1" height="18.8" fill="#2384ad"/><rect x="1407.70" y="811.0" width="6.1" height="37.0" fill="#2384ad"/><rect x="1414.63" y="831.2" width="6.1" height="16.8" fill="#2384ad"/><rect x="1421.56" y="832.6" width="6.1" height="15.4" fill="#7a6a9a"/><rect x="1428.48" y="816.0" width="6.1" height="32.0" fill="#2384ad"/><rect x="1435.41" y="842.9" width="6.1" height="5.1" fill="#7a6a9a"/><rect x="1442.34" y="816.0" width="6.1" height="32.0" fill="#7a6a9a"/><rect x="1449.27" y="789.4" width="6.1" height="58.6" fill="#2384ad"/><rect x="1456.19" y="801.3" width="6.1" height="46.7" fill="#2384ad"/><rect x="1463.12" y="811.0" width="6.1" height="37.0" fill="#7a6a9a"/><rect x="1470.05" y="829.2" width="6.1" height="18.8" fill="#7a6a9a"/><rect x="1476.97" y="790.5" width="6.1" height="57.5" fill="#2384ad"/><rect x="1483.90" y="798.0" width="6.1" height="50.0" fill="#7a6a9a"/><rect x="1490.83" y="824.9" width="6.1" height="23.1" fill="#7a6a9a"/><rect x="1497.75" y="828.2" width="6.1" height="19.8" fill="#7a6a9a"/><rect x="1504.68" y="831.2" width="6.1" height="16.8" fill="#7a6a9a"/><rect x="1511.61" y="845.8" width="6.1" height="2.2" fill="#2384ad"/></g>
<rect x="10.95" y="657.4" width="1.1" height="28.5" fill="#1dbb9c"/>
<rect x="9.10" y="662.9" width="4.8" height="16.5" fill="#1dbb9c"/>
<rect x="17.88" y="664.4" width="1.1" height="12.5" fill="#f46f71"/>
<rect x="16.03" y="670.4" width="4.8" height="1.5" fill="#f46f71"/>
<rect x="24.80" y="658.4" width="1.1" height="17.0" fill="#1dbb9c"/>
<rect x="22.95" y="670.9" width="4.8" height="2.5" fill="#1dbb9c"/>
<rect x="31.73" y="672.4" width="1.1" height="13.0" fill="#f46f71"/>
<rect x="29.88" y="674.9" width="4.8" height="1.5" fill="#f46f71"/>
<rect x="38.66" y="676.9" width="1.1" height="29.4" fill="#f46f71"/>
<rect x="36.81" y="677.9" width="4.8" height="14.4" fill="#f46f71"/>
<rect x="45.59" y="682.4" width="1.1" height="24.9" fill="#f46f71"/>
<rect x="43.73" y="691.3" width="4.8" height="16.0" fill="#f46f71"/>
<rect x="52.51" y="686.0" width="1.1" height="19.8" fill="#1dbb9c"/>
<rect x="50.66" y="686.1" width="4.8" height="19.2" fill="#1dbb9c"/>
<rect x="59.44" y="683.4" width="1.1" height="36.4" fill="#f46f71"/>
<rect x="57.59" y="685.9" width="4.8" height="31.9" fill="#f46f71"/>
<rect x="66.37" y="694.3" width="1.1" height="21.5" fill="#1dbb9c"/>
<rect x="64.52" y="707.8" width="4.8" height="8.0" fill="#1dbb9c"/>
<rect x="73.29" y="691.8" width="1.1" height="16.0" fill="#1dbb9c"/>
<rect x="71.44" y="699.3" width="4.8" height="5.0" fill="#1dbb9c"/>
<rect x="80.22" y="685.4" width="1.1" height="14.9" fill="#1dbb9c"/>
<rect x="78.37" y="689.4" width="4.8" height="10.9" fill="#1dbb9c"/>
<rect x="87.15" y="685.9" width="1.1" height="11.9" fill="#f46f71"/>
<rect x="85.30" y="689.9" width="4.8" height="3.9" fill="#f46f71"/>
<rect x="94.07" y="689.9" width="1.1" height="18.5" fill="#1dbb9c"/>
<rect x="92.22" y="689.9" width="4.8" height="14.2" fill="#1dbb9c"/>
<rect x="101.00" y="667.0" width="1.1" height="23.7" fill="#1dbb9c"/>
<rect x="99.15" y="667.0" width="4.8" height="23.7" fill="#1dbb9c"/>
<rect x="107.93" y="662.7" width="1.1" height="16.5" fill="#1dbb9c"/>
<rect x="106.08" y="669.4" width="4.8" height="6.1" fill="#1dbb9c"/>
<rect x="114.86" y="668.8" width="1.1" height="15.2" fill="#f46f71"/>
<rect x="113.00" y="668.8" width="4.8" height="15.2" fill="#f46f71"/>
<rect x="121.78" y="677.3" width="1.1" height="31.1" fill="#f46f71"/>
<rect x="119.93" y="679.8" width="4.8" height="26.2" fill="#f46f71"/>
<rect x="128.71" y="695.0" width="1.1" height="14.0" fill="#f46f71"/>
<rect x="126.86" y="701.7" width="4.8" height="4.9" fill="#f46f71"/>
<rect x="135.64" y="700.5" width="1.1" height="6.7" fill="#1dbb9c"/>
<rect x="133.79" y="704.1" width="4.8" height="1.2" fill="#1dbb9c"/>
<rect x="142.56" y="703.5" width="1.1" height="4.3" fill="#f46f71"/>
<rect x="140.71" y="703.5" width="4.8" height="1.2" fill="#f46f71"/>
<rect x="149.49" y="696.2" width="1.1" height="8.5" fill="#f46f71"/>
<rect x="147.64" y="699.9" width="4.8" height="4.2" fill="#f46f71"/>
<rect x="156.42" y="691.4" width="1.1" height="13.1" fill="#1dbb9c"/>
<rect x="154.57" y="703.5" width="4.8" height="1.2" fill="#1dbb9c"/>
<rect x="163.34" y="691.4" width="1.1" height="12.7" fill="#1dbb9c"/>
<rect x="161.49" y="699.9" width="4.8" height="4.2" fill="#1dbb9c"/>
<rect x="170.27" y="678.0" width="1.1" height="23.1" fill="#1dbb9c"/>
<rect x="168.42" y="678.0" width="4.8" height="23.1" fill="#1dbb9c"/>
<rect x="177.20" y="660.9" width="1.1" height="17.7" fill="#1dbb9c"/>
<rect x="175.35" y="665.2" width="4.8" height="13.3" fill="#1dbb9c"/>
<rect x="184.12" y="640.9" width="1.1" height="21.8" fill="#1dbb9c"/>
<rect x="182.27" y="645.4" width="4.8" height="17.2" fill="#1dbb9c"/>
<rect x="191.05" y="640.3" width="1.1" height="13.9" fill="#f46f71"/>
<rect x="189.20" y="646.2" width="4.8" height="3.7" fill="#f46f71"/>
<rect x="197.98" y="625.0" width="1.1" height="25.0" fill="#1dbb9c"/>
<rect x="196.13" y="634.3" width="4.8" height="15.6" fill="#1dbb9c"/>
<rect x="204.91" y="613.7" width="1.1" height="21.6" fill="#1dbb9c"/>
<rect x="203.06" y="613.7" width="4.8" height="21.5" fill="#1dbb9c"/>
<rect x="211.83" y="615.9" width="1.1" height="17.4" fill="#f46f71"/>
<rect x="209.98" y="615.9" width="4.8" height="14.1" fill="#f46f71"/>
<rect x="218.76" y="591.0" width="1.1" height="40.4" fill="#1dbb9c"/>
<rect x="216.91" y="593.7" width="4.8" height="37.5" fill="#1dbb9c"/>
<rect x="225.69" y="583.8" width="1.1" height="21.6" fill="#1dbb9c"/>
<rect x="223.84" y="595.4" width="4.8" height="3.3" fill="#1dbb9c"/>
<rect x="232.61" y="593.7" width="1.1" height="24.4" fill="#f46f71"/>
<rect x="230.76" y="594.9" width="4.8" height="23.2" fill="#f46f71"/>
<rect x="239.54" y="608.1" width="1.1" height="21.1" fill="#1dbb9c"/>
<rect x="237.69" y="609.8" width="4.8" height="7.8" fill="#1dbb9c"/>
<rect x="246.47" y="609.8" width="1.1" height="16.6" fill="#f46f71"/>
<rect x="244.62" y="609.8" width="4.8" height="3.9" fill="#f46f71"/>
<rect x="253.39" y="612.0" width="1.1" height="29.9" fill="#f46f71"/>
<rect x="251.54" y="613.1" width="4.8" height="22.2" fill="#f46f71"/>
<rect x="260.32" y="583.8" width="1.1" height="51.5" fill="#1dbb9c"/>
<rect x="258.47" y="591.0" width="4.8" height="44.3" fill="#1dbb9c"/>
<rect x="267.25" y="572.7" width="1.1" height="30.5" fill="#1dbb9c"/>
<rect x="265.40" y="572.7" width="4.8" height="16.6" fill="#1dbb9c"/>
<rect x="274.18" y="561.6" width="1.1" height="20.0" fill="#1dbb9c"/>
<rect x="272.33" y="567.7" width="4.8" height="5.6" fill="#1dbb9c"/>
<rect x="281.10" y="567.1" width="1.1" height="32.7" fill="#f46f71"/>
<rect x="279.25" y="567.7" width="4.8" height="32.1" fill="#f46f71"/>
<rect x="288.03" y="583.7" width="1.1" height="32.2" fill="#f46f71"/>
<rect x="286.18" y="594.3" width="4.8" height="18.8" fill="#f46f71"/>
<rect x="294.96" y="590.9" width="1.1" height="20.0" fill="#1dbb9c"/>
<rect x="293.11" y="592.9" width="4.8" height="18.0" fill="#1dbb9c"/>
<rect x="301.88" y="594.3" width="1.1" height="18.2" fill="#f46f71"/>
<rect x="300.03" y="599.8" width="4.8" height="7.8" fill="#f46f71"/>
<rect x="308.81" y="599.8" width="1.1" height="31.0" fill="#f46f71"/>
<rect x="306.96" y="605.9" width="4.8" height="18.3" fill="#f46f71"/>
<rect x="315.74" y="608.7" width="1.1" height="16.6" fill="#1dbb9c"/>
<rect x="313.89" y="622.5" width="4.8" height="1.7" fill="#1dbb9c"/>
<rect x="322.66" y="590.4" width="1.1" height="33.8" fill="#1dbb9c"/>
<rect x="320.81" y="608.1" width="4.8" height="16.1" fill="#1dbb9c"/>
<rect x="329.59" y="594.8" width="1.1" height="24.9" fill="#1dbb9c"/>
<rect x="327.74" y="605.9" width="4.8" height="2.8" fill="#1dbb9c"/>
<rect x="336.52" y="598.7" width="1.1" height="16.6" fill="#1dbb9c"/>
<rect x="334.67" y="605.3" width="4.8" height="6.7" fill="#1dbb9c"/>
<rect x="343.45" y="577.1" width="1.1" height="33.2" fill="#1dbb9c"/>
<rect x="341.60" y="579.3" width="4.8" height="31.0" fill="#1dbb9c"/>
<rect x="350.37" y="582.6" width="1.1" height="18.3" fill="#f46f71"/>
<rect x="348.52" y="583.2" width="4.8" height="17.7" fill="#f46f71"/>
<rect x="357.30" y="583.2" width="1.1" height="29.9" fill="#1dbb9c"/>
<rect x="355.45" y="589.8" width="4.8" height="10.6" fill="#1dbb9c"/>
<rect x="364.23" y="585.4" width="1.1" height="19.9" fill="#f46f71"/>
<rect x="362.38" y="589.8" width="4.8" height="8.3" fill="#f46f71"/>
<rect x="371.15" y="569.9" width="1.1" height="24.9" fill="#1dbb9c"/>
<rect x="369.30" y="577.7" width="4.8" height="7.7" fill="#1dbb9c"/>
<rect x="378.08" y="552.7" width="1.1" height="30.4" fill="#1dbb9c"/>
<rect x="376.23" y="554.3" width="4.8" height="24.4" fill="#1dbb9c"/>
<rect x="385.01" y="545.5" width="1.1" height="16.0" fill="#1dbb9c"/>
<rect x="383.16" y="548.2" width="4.8" height="8.9" fill="#1dbb9c"/>
<rect x="391.93" y="543.8" width="1.1" height="13.9" fill="#1dbb9c"/>
<rect x="390.08" y="548.6" width="4.8" height="1.5" fill="#1dbb9c"/>
<rect x="398.86" y="544.4" width="1.1" height="33.7" fill="#f46f71"/>
<rect x="397.01" y="547.1" width="4.8" height="30.5" fill="#f46f71"/>
<rect x="405.79" y="561.5" width="1.1" height="21.1" fill="#1dbb9c"/>
<rect x="403.94" y="567.6" width="4.8" height="9.4" fill="#1dbb9c"/>
<rect x="412.72" y="549.3" width="1.1" height="18.3" fill="#1dbb9c"/>
<rect x="410.87" y="566.0" width="4.8" height="1.4" fill="#1dbb9c"/>
<rect x="419.64" y="554.3" width="1.1" height="13.3" fill="#f46f71"/>
<rect x="417.79" y="566.0" width="4.8" height="1.4" fill="#f46f71"/>
<rect x="426.57" y="554.3" width="1.1" height="21.6" fill="#f46f71"/>
<rect x="424.72" y="559.9" width="4.8" height="11.0" fill="#f46f71"/>
<rect x="433.50" y="562.1" width="1.1" height="13.8" fill="#1dbb9c"/>
<rect x="431.65" y="570.9" width="4.8" height="1.2" fill="#1dbb9c"/>
<rect x="440.42" y="566.0" width="1.1" height="14.4" fill="#f46f71"/>
<rect x="438.57" y="567.6" width="4.8" height="11.6" fill="#f46f71"/>
<rect x="447.35" y="547.7" width="1.1" height="22.7" fill="#1dbb9c"/>
<rect x="445.50" y="553.8" width="4.8" height="16.6" fill="#1dbb9c"/>
<rect x="454.28" y="548.2" width="1.1" height="13.3" fill="#f46f71"/>
<rect x="452.43" y="551.0" width="4.8" height="2.0" fill="#f46f71"/>
<rect x="461.20" y="541.0" width="1.1" height="22.2" fill="#f46f71"/>
<rect x="459.36" y="552.1" width="4.8" height="11.1" fill="#f46f71"/>
<rect x="468.13" y="556.0" width="1.1" height="14.4" fill="#f46f71"/>
<rect x="466.28" y="562.1" width="4.8" height="8.3" fill="#f46f71"/>
<rect x="475.06" y="558.8" width="1.1" height="15.5" fill="#f46f71"/>
<rect x="473.21" y="567.6" width="4.8" height="3.9" fill="#f46f71"/>
<rect x="481.99" y="570.9" width="1.1" height="25.5" fill="#f46f71"/>
<rect x="480.14" y="570.9" width="4.8" height="10.6" fill="#f46f71"/>
<rect x="488.91" y="561.5" width="1.1" height="16.1" fill="#1dbb9c"/>
<rect x="487.06" y="565.4" width="4.8" height="12.2" fill="#1dbb9c"/>
<rect x="495.84" y="556.0" width="1.1" height="21.0" fill="#1dbb9c"/>
<rect x="493.99" y="570.4" width="4.8" height="6.6" fill="#1dbb9c"/>
<rect x="502.77" y="562.1" width="1.1" height="8.8" fill="#1dbb9c"/>
<rect x="500.92" y="569.3" width="4.8" height="1.6" fill="#1dbb9c"/>
<rect x="509.69" y="570.9" width="1.1" height="14.4" fill="#f46f71"/>
<rect x="507.84" y="570.9" width="4.8" height="6.7" fill="#f46f71"/>
<rect x="516.62" y="570.9" width="1.1" height="6.7" fill="#1dbb9c"/>
<rect x="514.77" y="574.3" width="4.8" height="3.3" fill="#1dbb9c"/>
<rect x="523.55" y="557.7" width="1.1" height="17.7" fill="#1dbb9c"/>
<rect x="521.70" y="563.2" width="4.8" height="12.2" fill="#1dbb9c"/>
<rect x="530.48" y="559.9" width="1.1" height="10.5" fill="#f46f71"/>
<rect x="528.62" y="559.9" width="4.8" height="6.6" fill="#f46f71"/>
<rect x="537.40" y="538.8" width="1.1" height="27.7" fill="#1dbb9c"/>
<rect x="535.55" y="546.0" width="4.8" height="20.5" fill="#1dbb9c"/>
<rect x="544.33" y="534.4" width="1.1" height="19.4" fill="#1dbb9c"/>
<rect x="542.48" y="538.8" width="4.8" height="7.8" fill="#1dbb9c"/>
<rect x="551.26" y="540.5" width="1.1" height="30.3" fill="#f46f71"/>
<rect x="549.41" y="540.5" width="4.8" height="25.9" fill="#f46f71"/>
<rect x="558.18" y="570.7" width="1.1" height="20.2" fill="#1dbb9c"/>
<rect x="556.33" y="570.7" width="4.8" height="7.9" fill="#1dbb9c"/>
<rect x="565.11" y="555.6" width="1.1" height="15.8" fill="#1dbb9c"/>
<rect x="563.26" y="555.6" width="4.8" height="15.8" fill="#1dbb9c"/>
<rect x="572.04" y="541.9" width="1.1" height="11.6" fill="#1dbb9c"/>
<rect x="570.19" y="541.9" width="4.8" height="11.6" fill="#1dbb9c"/>
<rect x="578.96" y="526.1" width="1.1" height="25.9" fill="#1dbb9c"/>
<rect x="577.11" y="530.4" width="4.8" height="14.4" fill="#1dbb9c"/>
<rect x="585.89" y="513.2" width="1.1" height="15.8" fill="#1dbb9c"/>
<rect x="584.04" y="519.6" width="4.8" height="9.4" fill="#1dbb9c"/>
<rect x="592.82" y="519.6" width="1.1" height="18.0" fill="#f46f71"/>
<rect x="590.97" y="519.6" width="4.8" height="15.1" fill="#f46f71"/>
<rect x="599.75" y="505.3" width="1.1" height="27.3" fill="#1dbb9c"/>
<rect x="597.89" y="513.9" width="4.8" height="18.7" fill="#1dbb9c"/>
<rect x="606.67" y="495.9" width="1.1" height="18.7" fill="#1dbb9c"/>
<rect x="604.82" y="499.5" width="4.8" height="15.1" fill="#1dbb9c"/>
<rect x="613.60" y="425.9" width="1.1" height="71.1" fill="#1dbb9c"/>
<rect x="611.75" y="427.9" width="4.8" height="69.1" fill="#1dbb9c"/>
<rect x="620.53" y="387.4" width="1.1" height="41.1" fill="#1dbb9c"/>
<rect x="618.68" y="389.3" width="4.8" height="39.2" fill="#1dbb9c"/>
<rect x="627.45" y="380.7" width="1.1" height="29.9" fill="#1dbb9c"/>
<rect x="625.60" y="386.8" width="4.8" height="6.7" fill="#1dbb9c"/>
<rect x="634.38" y="368.0" width="1.1" height="19.4" fill="#1dbb9c"/>
<rect x="632.53" y="377.7" width="4.8" height="9.7" fill="#1dbb9c"/>
<rect x="641.31" y="377.1" width="1.1" height="22.9" fill="#f46f71"/>
<rect x="639.46" y="377.1" width="4.8" height="2.4" fill="#f46f71"/>
<rect x="648.23" y="338.7" width="1.1" height="40.8" fill="#1dbb9c"/>
<rect x="646.38" y="349.1" width="4.8" height="30.4" fill="#1dbb9c"/>
<rect x="655.16" y="318.0" width="1.1" height="28.6" fill="#1dbb9c"/>
<rect x="653.31" y="321.7" width="4.8" height="24.9" fill="#1dbb9c"/>
<rect x="662.09" y="305.2" width="1.1" height="34.1" fill="#1dbb9c"/>
<rect x="660.24" y="325.9" width="4.8" height="1.9" fill="#1dbb9c"/>
<rect x="669.01" y="331.2" width="1.1" height="36.6" fill="#f46f71"/>
<rect x="667.16" y="331.2" width="4.8" height="33.2" fill="#f46f71"/>
<rect x="675.94" y="337.2" width="1.1" height="20.6" fill="#1dbb9c"/>
<rect x="674.09" y="348.5" width="4.8" height="9.3" fill="#1dbb9c"/>
<rect x="682.87" y="316.6" width="1.1" height="28.5" fill="#1dbb9c"/>
<rect x="681.02" y="342.5" width="4.8" height="2.6" fill="#1dbb9c"/>
<rect x="689.80" y="342.5" width="1.1" height="24.6" fill="#f46f71"/>
<rect x="687.95" y="342.5" width="4.8" height="12.6" fill="#f46f71"/>
<rect x="696.72" y="363.1" width="1.1" height="42.5" fill="#f46f71"/>
<rect x="694.87" y="365.1" width="4.8" height="6.0" fill="#f46f71"/>
<rect x="703.65" y="331.2" width="1.1" height="41.2" fill="#1dbb9c"/>
<rect x="701.80" y="331.2" width="4.8" height="41.2" fill="#1dbb9c"/>
<rect x="710.58" y="328.5" width="1.1" height="10.0" fill="#f46f71"/>
<rect x="708.73" y="331.9" width="4.8" height="1.3" fill="#f46f71"/>
<rect x="717.50" y="315.8" width="1.1" height="26.0" fill="#1dbb9c"/>
<rect x="715.65" y="322.5" width="4.8" height="19.3" fill="#1dbb9c"/>
<rect x="724.43" y="275.5" width="1.1" height="43.9" fill="#1dbb9c"/>
<rect x="722.58" y="275.5" width="4.8" height="43.9" fill="#1dbb9c"/>
<rect x="731.36" y="218.0" width="1.1" height="50.3" fill="#1dbb9c"/>
<rect x="729.51" y="236.7" width="4.8" height="31.6" fill="#1dbb9c"/>
<rect x="738.28" y="222.3" width="1.1" height="16.5" fill="#1dbb9c"/>
<rect x="736.43" y="236.0" width="4.8" height="1.7" fill="#1dbb9c"/>
<rect x="745.21" y="234.5" width="1.1" height="33.1" fill="#f46f71"/>
<rect x="743.36" y="235.3" width="4.8" height="5.0" fill="#f46f71"/>
<rect x="752.14" y="240.3" width="1.1" height="21.6" fill="#f46f71"/>
<rect x="750.29" y="240.3" width="4.8" height="15.1" fill="#f46f71"/>
<rect x="759.07" y="246.8" width="1.1" height="48.2" fill="#f46f71"/>
<rect x="757.22" y="254.7" width="4.8" height="28.0" fill="#f46f71"/>
<rect x="765.99" y="257.6" width="1.1" height="44.6" fill="#f46f71"/>
<rect x="764.14" y="282.0" width="4.8" height="15.1" fill="#f46f71"/>
<rect x="772.92" y="257.6" width="1.1" height="45.3" fill="#1dbb9c"/>
<rect x="771.07" y="271.2" width="4.8" height="31.7" fill="#1dbb9c"/>
<rect x="779.85" y="210.1" width="1.1" height="60.4" fill="#1dbb9c"/>
<rect x="778.00" y="218.0" width="4.8" height="52.5" fill="#1dbb9c"/>
<rect x="786.77" y="221.6" width="1.1" height="24.4" fill="#f46f71"/>
<rect x="784.92" y="221.6" width="4.8" height="24.4" fill="#f46f71"/>
<rect x="793.70" y="233.1" width="1.1" height="34.5" fill="#f46f71"/>
<rect x="791.85" y="243.2" width="4.8" height="24.4" fill="#f46f71"/>
<rect x="800.63" y="235.3" width="1.1" height="28.7" fill="#f46f71"/>
<rect x="798.78" y="248.2" width="4.8" height="15.8" fill="#f46f71"/>
<rect x="807.55" y="246.0" width="1.1" height="32.4" fill="#f46f71"/>
<rect x="805.70" y="261.9" width="4.8" height="6.4" fill="#f46f71"/>
<rect x="814.48" y="242.4" width="1.1" height="24.9" fill="#1dbb9c"/>
<rect x="812.63" y="246.0" width="4.8" height="21.3" fill="#1dbb9c"/>
<rect x="821.41" y="242.4" width="1.1" height="32.9" fill="#f46f71"/>
<rect x="819.56" y="246.0" width="4.8" height="25.0" fill="#f46f71"/>
<rect x="828.34" y="248.5" width="1.1" height="12.8" fill="#1dbb9c"/>
<rect x="826.49" y="250.3" width="4.8" height="1.2" fill="#1dbb9c"/>
<rect x="835.26" y="250.3" width="1.1" height="17.0" fill="#f46f71"/>
<rect x="833.41" y="265.5" width="4.8" height="1.8" fill="#f46f71"/>
<rect x="842.19" y="253.9" width="1.1" height="17.1" fill="#1dbb9c"/>
<rect x="840.34" y="266.7" width="4.8" height="1.2" fill="#1dbb9c"/>
<rect x="849.12" y="265.5" width="1.1" height="11.6" fill="#f46f71"/>
<rect x="847.27" y="266.7" width="4.8" height="9.2" fill="#f46f71"/>
<rect x="856.04" y="225.3" width="1.1" height="50.0" fill="#1dbb9c"/>
<rect x="854.19" y="227.8" width="4.8" height="47.5" fill="#1dbb9c"/>
<rect x="862.97" y="227.8" width="1.1" height="22.5" fill="#f46f71"/>
<rect x="861.12" y="227.8" width="4.8" height="22.5" fill="#f46f71"/>
<rect x="869.90" y="234.5" width="1.1" height="25.5" fill="#f46f71"/>
<rect x="868.05" y="247.9" width="4.8" height="10.3" fill="#f46f71"/>
<rect x="876.83" y="241.8" width="1.1" height="43.8" fill="#f46f71"/>
<rect x="874.98" y="254.6" width="4.8" height="28.6" fill="#f46f71"/>
<rect x="883.75" y="268.0" width="1.1" height="27.4" fill="#1dbb9c"/>
<rect x="881.90" y="279.5" width="4.8" height="2.5" fill="#1dbb9c"/>
<rect x="890.68" y="251.5" width="1.1" height="28.0" fill="#1dbb9c"/>
<rect x="888.83" y="263.1" width="4.8" height="16.4" fill="#1dbb9c"/>
<rect x="897.61" y="224.1" width="1.1" height="39.8" fill="#1dbb9c"/>
<rect x="895.76" y="224.1" width="4.8" height="39.8" fill="#1dbb9c"/>
<rect x="904.53" y="214.8" width="1.1" height="17.1" fill="#1dbb9c"/>
<rect x="902.68" y="219.1" width="4.8" height="7.9" fill="#1dbb9c"/>
<rect x="911.46" y="203.3" width="1.1" height="24.3" fill="#1dbb9c"/>
<rect x="909.61" y="210.6" width="4.8" height="9.7" fill="#1dbb9c"/>
<rect x="918.39" y="210.0" width="1.1" height="29.8" fill="#f46f71"/>
<rect x="916.54" y="211.8" width="4.8" height="17.7" fill="#f46f71"/>
<rect x="925.31" y="221.5" width="1.1" height="27.4" fill="#f46f71"/>
<rect x="923.46" y="221.5" width="4.8" height="27.4" fill="#f46f71"/>
<rect x="932.24" y="216.1" width="1.1" height="34.1" fill="#1dbb9c"/>
<rect x="930.39" y="221.5" width="4.8" height="28.7" fill="#1dbb9c"/>
<rect x="939.17" y="193.5" width="1.1" height="44.5" fill="#f46f71"/>
<rect x="937.32" y="220.9" width="4.8" height="7.9" fill="#f46f71"/>
<rect x="946.10" y="216.1" width="1.1" height="32.8" fill="#f46f71"/>
<rect x="944.25" y="227.6" width="4.8" height="21.3" fill="#f46f71"/>
<rect x="953.02" y="234.9" width="1.1" height="13.4" fill="#1dbb9c"/>
<rect x="951.17" y="245.3" width="4.8" height="3.0" fill="#1dbb9c"/>
<rect x="959.95" y="235.5" width="1.1" height="13.8" fill="#1dbb9c"/>
<rect x="958.10" y="236.7" width="4.8" height="8.9" fill="#1dbb9c"/>
<rect x="966.88" y="235.1" width="1.1" height="67.3" fill="#f46f71"/>
<rect x="965.03" y="235.1" width="4.8" height="62.0" fill="#f46f71"/>
<rect x="973.80" y="273.9" width="1.1" height="33.8" fill="#1dbb9c"/>
<rect x="971.95" y="275.2" width="4.8" height="20.6" fill="#1dbb9c"/>
<rect x="980.73" y="267.9" width="1.1" height="39.8" fill="#f46f71"/>
<rect x="978.88" y="275.8" width="4.8" height="10.0" fill="#f46f71"/>
<rect x="987.66" y="285.1" width="1.1" height="49.9" fill="#f46f71"/>
<rect x="985.81" y="286.5" width="4.8" height="39.8" fill="#f46f71"/>
<rect x="994.58" y="316.4" width="1.1" height="25.9" fill="#1dbb9c"/>
<rect x="992.73" y="320.4" width="4.8" height="5.3" fill="#1dbb9c"/>
<rect x="1001.51" y="321.7" width="1.1" height="13.9" fill="#f46f71"/>
<rect x="999.66" y="325.0" width="4.8" height="7.3" fill="#f46f71"/>
<rect x="1008.44" y="325.0" width="1.1" height="23.3" fill="#f46f71"/>
<rect x="1006.59" y="325.0" width="4.8" height="7.3" fill="#f46f71"/>
<rect x="1015.37" y="283.2" width="1.1" height="50.5" fill="#1dbb9c"/>
<rect x="1013.51" y="289.8" width="4.8" height="43.9" fill="#1dbb9c"/>
<rect x="1022.29" y="285.1" width="1.1" height="18.7" fill="#1dbb9c"/>
<rect x="1020.44" y="288.5" width="4.8" height="4.6" fill="#1dbb9c"/>
<rect x="1029.22" y="285.1" width="1.1" height="31.3" fill="#f46f71"/>
<rect x="1027.37" y="285.1" width="4.8" height="8.7" fill="#f46f71"/>
<rect x="1036.15" y="259.9" width="1.1" height="30.6" fill="#1dbb9c"/>
<rect x="1034.30" y="265.2" width="4.8" height="25.3" fill="#1dbb9c"/>
<rect x="1043.07" y="255.9" width="1.1" height="39.9" fill="#f46f71"/>
<rect x="1041.22" y="255.9" width="4.8" height="23.9" fill="#f46f71"/>
<rect x="1050.00" y="277.2" width="1.1" height="41.8" fill="#f46f71"/>
<rect x="1048.15" y="289.8" width="4.8" height="8.6" fill="#f46f71"/>
<rect x="1056.93" y="275.5" width="1.1" height="25.9" fill="#1dbb9c"/>
<rect x="1055.08" y="275.5" width="4.8" height="25.9" fill="#1dbb9c"/>
<rect x="1063.85" y="264.2" width="1.1" height="20.6" fill="#1dbb9c"/>
<rect x="1062.00" y="264.2" width="4.8" height="11.9" fill="#1dbb9c"/>
<rect x="1070.78" y="257.5" width="1.1" height="29.9" fill="#f46f71"/>
<rect x="1068.93" y="264.2" width="4.8" height="19.9" fill="#f46f71"/>
<rect x="1077.71" y="276.8" width="1.1" height="28.6" fill="#f46f71"/>
<rect x="1075.86" y="276.8" width="4.8" height="23.2" fill="#f46f71"/>
<rect x="1084.63" y="290.7" width="1.1" height="36.6" fill="#f46f71"/>
<rect x="1082.78" y="296.1" width="4.8" height="7.3" fill="#f46f71"/>
<rect x="1091.56" y="270.1" width="1.1" height="33.3" fill="#1dbb9c"/>
<rect x="1089.71" y="276.8" width="4.8" height="26.6" fill="#1dbb9c"/>
<rect x="1098.49" y="256.2" width="1.1" height="21.9" fill="#1dbb9c"/>
<rect x="1096.64" y="256.2" width="4.8" height="21.9" fill="#1dbb9c"/>
<rect x="1105.42" y="254.9" width="1.1" height="41.8" fill="#f46f71"/>
<rect x="1103.57" y="256.2" width="4.8" height="37.9" fill="#f46f71"/>
<rect x="1112.34" y="268.2" width="1.1" height="25.2" fill="#1dbb9c"/>
<rect x="1110.49" y="268.2" width="4.8" height="25.2" fill="#1dbb9c"/>
<rect x="1119.27" y="267.5" width="1.1" height="15.9" fill="#1dbb9c"/>
<rect x="1117.42" y="267.5" width="4.8" height="1.3" fill="#1dbb9c"/>
<rect x="1126.20" y="242.9" width="1.1" height="34.6" fill="#1dbb9c"/>
<rect x="1124.35" y="250.9" width="4.8" height="17.9" fill="#1dbb9c"/>
<rect x="1133.12" y="244.9" width="1.1" height="17.3" fill="#f46f71"/>
<rect x="1131.27" y="250.9" width="4.8" height="11.3" fill="#f46f71"/>
<rect x="1140.05" y="229.3" width="1.1" height="33.2" fill="#1dbb9c"/>
<rect x="1138.20" y="229.3" width="4.8" height="33.2" fill="#1dbb9c"/>
<rect x="1146.98" y="232.6" width="1.1" height="18.0" fill="#f46f71"/>
<rect x="1145.13" y="232.6" width="4.8" height="15.3" fill="#f46f71"/>
<rect x="1153.90" y="242.6" width="1.1" height="34.5" fill="#1dbb9c"/>
<rect x="1152.05" y="245.9" width="4.8" height="1.3" fill="#1dbb9c"/>
<rect x="1160.83" y="245.2" width="1.1" height="23.3" fill="#f46f71"/>
<rect x="1158.98" y="245.2" width="4.8" height="23.3" fill="#f46f71"/>
<rect x="1167.76" y="253.9" width="1.1" height="34.5" fill="#f46f71"/>
<rect x="1165.91" y="271.8" width="4.8" height="8.0" fill="#f46f71"/>
<rect x="1174.69" y="268.5" width="1.1" height="17.9" fill="#f46f71"/>
<rect x="1172.84" y="268.5" width="4.8" height="17.9" fill="#f46f71"/>
<rect x="1181.61" y="261.9" width="1.1" height="27.9" fill="#1dbb9c"/>
<rect x="1179.76" y="261.9" width="4.8" height="24.5" fill="#1dbb9c"/>
<rect x="1188.54" y="261.9" width="1.1" height="21.2" fill="#1dbb9c"/>
<rect x="1186.69" y="273.8" width="4.8" height="9.3" fill="#1dbb9c"/>
<rect x="1195.47" y="261.9" width="1.1" height="57.1" fill="#f46f71"/>
<rect x="1193.62" y="278.5" width="4.8" height="31.9" fill="#f46f71"/>
<rect x="1202.39" y="289.8" width="1.1" height="23.2" fill="#1dbb9c"/>
<rect x="1200.54" y="298.4" width="4.8" height="4.7" fill="#1dbb9c"/>
<rect x="1209.32" y="285.1" width="1.1" height="23.3" fill="#1dbb9c"/>
<rect x="1207.47" y="289.1" width="4.8" height="14.0" fill="#1dbb9c"/>
<rect x="1216.25" y="285.8" width="1.1" height="37.2" fill="#1dbb9c"/>
<rect x="1214.40" y="295.7" width="4.8" height="12.7" fill="#1dbb9c"/>
<rect x="1223.17" y="268.5" width="1.1" height="27.9" fill="#1dbb9c"/>
<rect x="1221.32" y="278.5" width="4.8" height="17.9" fill="#1dbb9c"/>
<rect x="1230.10" y="268.5" width="1.1" height="21.3" fill="#1dbb9c"/>
<rect x="1228.25" y="268.5" width="4.8" height="11.3" fill="#1dbb9c"/>
<rect x="1237.03" y="269.8" width="1.1" height="20.0" fill="#f46f71"/>
<rect x="1235.18" y="269.8" width="4.8" height="6.0" fill="#f46f71"/>
<rect x="1243.96" y="274.5" width="1.1" height="11.9" fill="#f46f71"/>
<rect x="1242.11" y="274.5" width="4.8" height="8.6" fill="#f46f71"/>
<rect x="1250.88" y="275.8" width="1.1" height="13.3" fill="#1dbb9c"/>
<rect x="1249.03" y="281.8" width="4.8" height="1.3" fill="#1dbb9c"/>
<rect x="1257.81" y="256.5" width="1.1" height="31.3" fill="#1dbb9c"/>
<rect x="1255.96" y="260.5" width="4.8" height="27.3" fill="#1dbb9c"/>
<rect x="1264.74" y="251.2" width="1.1" height="12.0" fill="#1dbb9c"/>
<rect x="1262.89" y="261.9" width="4.8" height="1.3" fill="#1dbb9c"/>
<rect x="1271.66" y="261.2" width="1.1" height="38.5" fill="#f46f71"/>
<rect x="1269.81" y="261.2" width="4.8" height="38.5" fill="#f46f71"/>
<rect x="1278.59" y="285.1" width="1.1" height="23.9" fill="#1dbb9c"/>
<rect x="1276.74" y="290.4" width="4.8" height="7.3" fill="#1dbb9c"/>
<rect x="1285.52" y="281.1" width="1.1" height="16.0" fill="#1dbb9c"/>
<rect x="1283.67" y="281.1" width="4.8" height="9.3" fill="#1dbb9c"/>
<rect x="1292.44" y="271.8" width="1.1" height="21.3" fill="#f46f71"/>
<rect x="1290.59" y="281.1" width="4.8" height="9.3" fill="#f46f71"/>
<rect x="1299.37" y="281.1" width="1.1" height="11.3" fill="#1dbb9c"/>
<rect x="1297.52" y="285.1" width="4.8" height="6.0" fill="#1dbb9c"/>
<rect x="1306.30" y="285.1" width="1.1" height="6.7" fill="#f46f71"/>
<rect x="1304.45" y="285.1" width="4.8" height="6.7" fill="#f46f71"/>
<rect x="1313.23" y="253.2" width="1.1" height="35.9" fill="#1dbb9c"/>
<rect x="1311.38" y="261.2" width="4.8" height="24.6" fill="#1dbb9c"/>
<rect x="1320.15" y="219.7" width="1.1" height="42.0" fill="#1dbb9c"/>
<rect x="1318.30" y="233.4" width="4.8" height="28.3" fill="#1dbb9c"/>
<rect x="1327.08" y="222.2" width="1.1" height="27.5" fill="#f46f71"/>
<rect x="1325.23" y="233.4" width="4.8" height="2.6" fill="#f46f71"/>
<rect x="1334.01" y="196.5" width="1.1" height="42.9" fill="#1dbb9c"/>
<rect x="1332.16" y="202.5" width="4.8" height="32.6" fill="#1dbb9c"/>
<rect x="1340.93" y="175.9" width="1.1" height="33.5" fill="#1dbb9c"/>
<rect x="1339.08" y="175.9" width="4.8" height="27.5" fill="#1dbb9c"/>
<rect x="1347.86" y="153.6" width="1.1" height="27.4" fill="#f46f71"/>
<rect x="1346.01" y="174.2" width="4.8" height="2.6" fill="#f46f71"/>
<rect x="1354.79" y="170.7" width="1.1" height="30.1" fill="#f46f71"/>
<rect x="1352.94" y="174.2" width="4.8" height="7.7" fill="#f46f71"/>
<rect x="1361.71" y="181.9" width="1.1" height="55.8" fill="#f46f71"/>
<rect x="1359.86" y="181.9" width="4.8" height="52.4" fill="#f46f71"/>
<rect x="1368.64" y="224.8" width="1.1" height="48.9" fill="#f46f71"/>
<rect x="1366.79" y="233.4" width="4.8" height="23.2" fill="#f46f71"/>
<rect x="1375.57" y="231.7" width="1.1" height="30.9" fill="#1dbb9c"/>
<rect x="1373.72" y="239.4" width="4.8" height="23.2" fill="#1dbb9c"/>
<rect x="1382.50" y="226.5" width="1.1" height="12.9" fill="#1dbb9c"/>
<rect x="1380.65" y="228.2" width="4.8" height="11.2" fill="#1dbb9c"/>
<rect x="1389.42" y="232.5" width="1.1" height="58.4" fill="#f46f71"/>
<rect x="1387.57" y="232.5" width="4.8" height="58.4" fill="#f46f71"/>
<rect x="1396.35" y="256.6" width="1.1" height="31.7" fill="#1dbb9c"/>
<rect x="1394.50" y="267.7" width="4.8" height="14.6" fill="#1dbb9c"/>
<rect x="1403.28" y="236.4" width="1.1" height="31.2" fill="#1dbb9c"/>
<rect x="1401.43" y="236.4" width="4.8" height="31.2" fill="#1dbb9c"/>
<rect x="1410.20" y="219.3" width="1.1" height="22.7" fill="#1dbb9c"/>
<rect x="1408.35" y="229.8" width="4.8" height="8.9" fill="#1dbb9c"/>
<rect x="1417.13" y="216.0" width="1.1" height="17.1" fill="#1dbb9c"/>
<rect x="1415.28" y="218.2" width="4.8" height="12.7" fill="#1dbb9c"/>
<rect x="1424.06" y="218.2" width="1.1" height="15.5" fill="#f46f71"/>
<rect x="1422.21" y="218.2" width="4.8" height="15.5" fill="#f46f71"/>
<rect x="1430.98" y="208.2" width="1.1" height="42.1" fill="#1dbb9c"/>
<rect x="1429.13" y="229.8" width="4.8" height="3.9" fill="#1dbb9c"/>
<rect x="1437.91" y="220.9" width="1.1" height="11.1" fill="#f46f71"/>
<rect x="1436.06" y="224.3" width="4.8" height="7.7" fill="#f46f71"/>
<rect x="1444.84" y="229.2" width="1.1" height="22.7" fill="#f46f71"/>
<rect x="1442.99" y="230.9" width="4.8" height="21.0" fill="#f46f71"/>
<rect x="1451.77" y="203.8" width="1.1" height="42.6" fill="#1dbb9c"/>
<rect x="1449.92" y="210.4" width="4.8" height="29.4" fill="#1dbb9c"/>
<rect x="1458.69" y="189.4" width="1.1" height="24.3" fill="#1dbb9c"/>
<rect x="1456.84" y="189.4" width="4.8" height="21.6" fill="#1dbb9c"/>
<rect x="1465.62" y="176.1" width="1.1" height="55.4" fill="#f46f71"/>
<rect x="1463.77" y="189.9" width="4.8" height="26.1" fill="#f46f71"/>
<rect x="1472.55" y="204.0" width="1.1" height="22.6" fill="#f46f71"/>
<rect x="1470.70" y="204.3" width="4.8" height="11.9" fill="#f46f71"/>
<rect x="1479.47" y="196.4" width="1.1" height="24.3" fill="#1dbb9c"/>
<rect x="1477.62" y="209.5" width="4.8" height="7.0" fill="#1dbb9c"/>
<rect x="1486.40" y="206.5" width="1.1" height="49.3" fill="#f46f71"/>
<rect x="1484.55" y="208.4" width="4.8" height="37.7" fill="#f46f71"/>
<rect x="1493.33" y="232.8" width="1.1" height="18.6" fill="#f46f71"/>
<rect x="1491.48" y="244.7" width="4.8" height="6.7" fill="#f46f71"/>
<rect x="1500.25" y="239.0" width="1.1" height="28.3" fill="#f46f71"/>
<rect x="1498.40" y="245.2" width="4.8" height="9.3" fill="#f46f71"/>
<rect x="1507.18" y="248.3" width="1.1" height="19.5" fill="#f46f71"/>
<rect x="1505.33" y="250.0" width="4.8" height="17.8" fill="#f46f71"/>
<rect x="1514.11" y="261.7" width="1.1" height="6.9" fill="#1dbb9c"/>
<rect x="1512.26" y="261.7" width="4.8" height="4.6" fill="#1dbb9c"/>
</g>
<line x1="938.3" y1="377.6" x2="1535.9" y2="263.5" stroke="#4688d6" stroke-width="2" stroke-linecap="round"/>
<rect x="1548.5" y="184" width="277.5" height="78" fill="#365757"/>
<rect x="1548.5" y="262" width="277.5" height="47" fill="#55232b"/>
<rect x="1549" y="184.5" width="276.5" height="124" fill="none" stroke="#8a8d96" stroke-opacity="0.28" stroke-width="1"/>
<line x1="1548.5" y1="262" x2="1826" y2="262" stroke="#7a7c84" stroke-opacity="0.75" stroke-width="1.2"/>
<circle cx="33.3" cy="837.7" r="10.3" fill="#10131c" fill-opacity="0.7"/>
<circle cx="33.3" cy="837.7" r="8.5" fill="#360612" stroke="#c8305a" stroke-width="1.6"/>
<text x="30.0" y="841.8" font-family='"Liberation Sans", Arial, sans-serif' font-size="11.2" font-weight="bold" fill="#c42352" textLength="6.8" lengthAdjust="spacingAndGlyphs">E</text>
<circle cx="172.0" cy="837.7" r="10.3" fill="#10131c" fill-opacity="0.7"/>
<circle cx="172.0" cy="837.7" r="8.5" fill="#360612" stroke="#c8305a" stroke-width="1.6"/>
<text x="168.7" y="841.8" font-family='"Liberation Sans", Arial, sans-serif' font-size="11.2" font-weight="bold" fill="#c42352" textLength="6.8" lengthAdjust="spacingAndGlyphs">E</text>
<circle cx="608.3" cy="837.7" r="10.3" fill="#10131c" fill-opacity="0.7"/>
<circle cx="608.3" cy="837.7" r="8.5" fill="#360612" stroke="#c8305a" stroke-width="1.6"/>
<text x="605.0" y="841.8" font-family='"Liberation Sans", Arial, sans-serif' font-size="11.2" font-weight="bold" fill="#c42352" textLength="6.8" lengthAdjust="spacingAndGlyphs">E</text>
<circle cx="1037.0" cy="837.7" r="10.3" fill="#10131c" fill-opacity="0.7"/>
<circle cx="1037.0" cy="837.7" r="8.5" fill="#360612" stroke="#c8305a" stroke-width="1.6"/>
<text x="1033.7" y="841.8" font-family='"Liberation Sans", Arial, sans-serif' font-size="11.2" font-weight="bold" fill="#c42352" textLength="6.8" lengthAdjust="spacingAndGlyphs">E</text>
<circle cx="787.9" cy="837.5" r="10.3" fill="#10131c" fill-opacity="0.7"/>
<circle cx="787.9" cy="837.5" r="8.5" fill="#0a1633" stroke="#4a8fe0" stroke-width="1.6"/>
<text x="784.6" y="841.6" font-family='"Liberation Sans", Arial, sans-serif' font-size="11.2" font-weight="bold" fill="#3a7fd8" textLength="6.8" lengthAdjust="spacingAndGlyphs">D</text>
<line x1="1864.5" y1="8" x2="1864.5" y2="872" stroke="#2a2e39" stroke-width="1"/>
<line x1="8" y1="848.5" x2="1911" y2="848.5" stroke="#2a2e39" stroke-width="1"/>
<text x="1872.2" y="37.1" font-family='"Liberation Sans", Arial, sans-serif' font-size="11.3" font-weight="bold" fill="#e2e4ea" textLength="25" lengthAdjust="spacingAndGlyphs">20.50</text>
<text x="1872.2" y="65.8" font-family='"Liberation Sans", Arial, sans-serif' font-size="11.3" font-weight="bold" fill="#e2e4ea" textLength="25" lengthAdjust="spacingAndGlyphs">20.00</text>
<text x="1872.2" y="94.4" font-family='"Liberation Sans", Arial, sans-serif' font-size="11.3" font-weight="bold" fill="#e2e4ea" textLength="25" lengthAdjust="spacingAndGlyphs">19.50</text>
<text x="1872.2" y="123.1" font-family='"Liberation Sans", Arial, sans-serif' font-size="11.3" font-weight="bold" fill="#e2e4ea" textLength="25" lengthAdjust="spacingAndGlyphs">19.00</text>
<text x="1872.2" y="151.7" font-family='"Liberation Sans", Arial, sans-serif' font-size="11.3" font-weight="bold" fill="#e2e4ea" textLength="25" lengthAdjust="spacingAndGlyphs">18.50</text>
<text x="1872.2" y="180.4" font-family='"Liberation Sans", Arial, sans-serif' font-size="11.3" font-weight="bold" fill="#e2e4ea" textLength="25" lengthAdjust="spacingAndGlyphs">18.00</text>
<text x="1872.2" y="209.0" font-family='"Liberation Sans", Arial, sans-serif' font-size="11.3" font-weight="bold" fill="#e2e4ea" textLength="25" lengthAdjust="spacingAndGlyphs">17.50</text>
<text x="1872.2" y="237.7" font-family='"Liberation Sans", Arial, sans-serif' font-size="11.3" font-weight="bold" fill="#e2e4ea" textLength="25" lengthAdjust="spacingAndGlyphs">17.00</text>
<text x="1872.2" y="266.3" font-family='"Liberation Sans", Arial, sans-serif' font-size="11.3" font-weight="bold" fill="#e2e4ea" textLength="25" lengthAdjust="spacingAndGlyphs">16.50</text>
<text x="1872.2" y="295.0" font-family='"Liberation Sans", Arial, sans-serif' font-size="11.3" font-weight="bold" fill="#e2e4ea" textLength="25" lengthAdjust="spacingAndGlyphs">16.00</text>
<text x="1872.2" y="323.7" font-family='"Liberation Sans", Arial, sans-serif' font-size="11.3" font-weight="bold" fill="#e2e4ea" textLength="25" lengthAdjust="spacingAndGlyphs">15.50</text>
<text x="1872.2" y="352.3" font-family='"Liberation Sans", Arial, sans-serif' font-size="11.3" font-weight="bold" fill="#e2e4ea" textLength="25" lengthAdjust="spacingAndGlyphs">15.00</text>
<text x="1872.2" y="381.0" font-family='"Liberation Sans", Arial, sans-serif' font-size="11.3" font-weight="bold" fill="#e2e4ea" textLength="25" lengthAdjust="spacingAndGlyphs">14.50</text>
<text x="1872.2" y="409.6" font-family='"Liberation Sans", Arial, sans-serif' font-size="11.3" font-weight="bold" fill="#e2e4ea" textLength="25" lengthAdjust="spacingAndGlyphs">14.00</text>
<text x="1872.2" y="438.3" font-family='"Liberation Sans", Arial, sans-serif' font-size="11.3" font-weight="bold" fill="#e2e4ea" textLength="25" lengthAdjust="spacingAndGlyphs">13.50</text>
<text x="1872.2" y="466.9" font-family='"Liberation Sans", Arial, sans-serif' font-size="11.3" font-weight="bold" fill="#e2e4ea" textLength="25" lengthAdjust="spacingAndGlyphs">13.00</text>
<text x="1872.2" y="495.6" font-family='"Liberation Sans", Arial, sans-serif' font-size="11.3" font-weight="bold" fill="#e2e4ea" textLength="25" lengthAdjust="spacingAndGlyphs">12.50</text>
<text x="1872.2" y="524.2" font-family='"Liberation Sans", Arial, sans-serif' font-size="11.3" font-weight="bold" fill="#e2e4ea" textLength="25" lengthAdjust="spacingAndGlyphs">12.00</text>
<text x="1872.2" y="552.9" font-family='"Liberation Sans", Arial, sans-serif' font-size="11.3" font-weight="bold" fill="#e2e4ea" textLength="25" lengthAdjust="spacingAndGlyphs">11.50</text>
<text x="1872.2" y="581.5" font-family='"Liberation Sans", Arial, sans-serif' font-size="11.3" font-weight="bold" fill="#e2e4ea" textLength="25" lengthAdjust="spacingAndGlyphs">11.00</text>
<text x="1872.2" y="610.2" font-family='"Liberation Sans", Arial, sans-serif' font-size="11.3" font-weight="bold" fill="#e2e4ea" textLength="25" lengthAdjust="spacingAndGlyphs">10.50</text>
<text x="1872.2" y="638.9" font-family='"Liberation Sans", Arial, sans-serif' font-size="11.3" font-weight="bold" fill="#e2e4ea" textLength="25" lengthAdjust="spacingAndGlyphs">10.00</text>
<text x="1872.2" y="667.5" font-family='"Liberation Sans", Arial, sans-serif' font-size="11.3" font-weight="bold" fill="#e2e4ea" textLength="19.9" lengthAdjust="spacingAndGlyphs">9.50</text>
<text x="1872.2" y="696.2" font-family='"Liberation Sans", Arial, sans-serif' font-size="11.3" font-weight="bold" fill="#e2e4ea" textLength="19.9" lengthAdjust="spacingAndGlyphs">9.00</text>
<text x="1872.2" y="724.8" font-family='"Liberation Sans", Arial, sans-serif' font-size="11.3" font-weight="bold" fill="#e2e4ea" textLength="19.9" lengthAdjust="spacingAndGlyphs">8.50</text>
<text x="1872.2" y="753.5" font-family='"Liberation Sans", Arial, sans-serif' font-size="11.3" font-weight="bold" fill="#e2e4ea" textLength="19.9" lengthAdjust="spacingAndGlyphs">8.00</text>
<text x="1872.2" y="782.1" font-family='"Liberation Sans", Arial, sans-serif' font-size="11.3" font-weight="bold" fill="#e2e4ea" textLength="19.9" lengthAdjust="spacingAndGlyphs">7.50</text>
<text x="1872.2" y="810.8" font-family='"Liberation Sans", Arial, sans-serif' font-size="11.3" font-weight="bold" fill="#e2e4ea" textLength="19.9" lengthAdjust="spacingAndGlyphs">7.00</text>
<text x="1872.2" y="839.4" font-family='"Liberation Sans", Arial, sans-serif' font-size="11.3" font-weight="bold" fill="#e2e4ea" textLength="19.9" lengthAdjust="spacingAndGlyphs">6.50</text>
<rect x="1864.5" y="177.7" width="37.5" height="14.6" rx="0.6" fill="#74d6bf"/>
<text x="1872.2" y="188.9" font-family='"Liberation Sans", Arial, sans-serif' font-size="11.3" font-weight="normal" fill="#0b4a3d" textLength="25" lengthAdjust="spacingAndGlyphs">17.85</text>
<rect x="1864.5" y="255.0" width="37.5" height="14.6" rx="0.6" fill="#ffa01a"/>
<text x="1872.2" y="266.2" font-family='"Liberation Sans", Arial, sans-serif' font-size="11.3" font-weight="normal" fill="#3b2200" textLength="25" lengthAdjust="spacingAndGlyphs">16.50</text>
<rect x="1864.5" y="301.7" width="37.5" height="14.6" rx="0.6" fill="#cd2c3e"/>
<text x="1872.2" y="312.9" font-family='"Liberation Sans", Arial, sans-serif' font-size="11.3" font-weight="bold" fill="#ffffff" textLength="25" lengthAdjust="spacingAndGlyphs">15.69</text>
<svg x="1864.6" y="839" width="43" height="9" overflow="hidden"><rect width="43" height="20" fill="#14b495"/><text x="7.6" y="11.7" font-family='"Liberation Sans", Arial, sans-serif' font-size="12" font-weight="bold" fill="#c8fff0" textLength="30" lengthAdjust="spacingAndGlyphs">156.5K</text></svg>
<text x="106.30" y="864.4" font-family='"Liberation Sans", Arial, sans-serif' font-size="10.8" font-weight="bold" fill="#e2e4ea" textLength="18.2" lengthAdjust="spacingAndGlyphs">May</text>
<text x="186.25" y="864.4" font-family='"Liberation Sans", Arial, sans-serif' font-size="10.8" font-weight="bold" fill="#e2e4ea" textLength="10" lengthAdjust="spacingAndGlyphs">17</text>
<text x="259.50" y="864.4" font-family='"Liberation Sans", Arial, sans-serif' font-size="10.8" font-weight="bold" fill="#e2e4ea" textLength="16.2" lengthAdjust="spacingAndGlyphs">Jun</text>
<text x="385.40" y="864.4" font-family='"Liberation Sans", Arial, sans-serif' font-size="10.8" font-weight="bold" fill="#e2e4ea" textLength="13.2" lengthAdjust="spacingAndGlyphs">Jul</text>
<text x="463.55" y="864.4" font-family='"Liberation Sans", Arial, sans-serif' font-size="10.8" font-weight="bold" fill="#e2e4ea" textLength="9.5" lengthAdjust="spacingAndGlyphs">16</text>
<text x="536.30" y="864.4" font-family='"Liberation Sans", Arial, sans-serif' font-size="10.8" font-weight="bold" fill="#e2e4ea" textLength="17" lengthAdjust="spacingAndGlyphs">Aug</text>
<text x="674.55" y="864.4" font-family='"Liberation Sans", Arial, sans-serif' font-size="10.8" font-weight="bold" fill="#e2e4ea" textLength="16.7" lengthAdjust="spacingAndGlyphs">Sep</text>
<text x="820.05" y="864.4" font-family='"Liberation Sans", Arial, sans-serif' font-size="10.8" font-weight="bold" fill="#e2e4ea" textLength="16.7" lengthAdjust="spacingAndGlyphs">Oct</text>
<text x="898.90" y="864.4" font-family='"Liberation Sans", Arial, sans-serif' font-size="10.8" font-weight="bold" fill="#e2e4ea" textLength="11" lengthAdjust="spacingAndGlyphs">16</text>
<text x="978.75" y="864.4" font-family='"Liberation Sans", Arial, sans-serif' font-size="10.8" font-weight="bold" fill="#e2e4ea" textLength="17.5" lengthAdjust="spacingAndGlyphs">Nov</text>
<text x="1117.50" y="864.4" font-family='"Liberation Sans", Arial, sans-serif' font-size="10.8" font-weight="bold" fill="#e2e4ea" textLength="17.5" lengthAdjust="spacingAndGlyphs">Dec</text>
<text x="1238.80" y="864.4" font-family='"Liberation Sans", Arial, sans-serif' font-size="10.8" font-weight="bold" fill="#e2e4ea" textLength="24.2" lengthAdjust="spacingAndGlyphs">2025</text>
<text x="1387.50" y="864.4" font-family='"Liberation Sans", Arial, sans-serif' font-size="10.8" font-weight="bold" fill="#e2e4ea" textLength="17.5" lengthAdjust="spacingAndGlyphs">Feb</text>
<text x="1526.05" y="864.4" font-family='"Liberation Sans", Arial, sans-serif' font-size="10.8" font-weight="bold" fill="#e2e4ea" textLength="17.7" lengthAdjust="spacingAndGlyphs">Mar</text>
<text x="1671.85" y="864.4" font-family='"Liberation Sans", Arial, sans-serif' font-size="10.8" font-weight="bold" fill="#e2e4ea" textLength="16.7" lengthAdjust="spacingAndGlyphs">Apr</text>
<text x="1751.00" y="864.4" font-family='"Liberation Sans", Arial, sans-serif' font-size="10.8" font-weight="bold" fill="#e2e4ea" textLength="11" lengthAdjust="spacingAndGlyphs">16</text>
<text x="1822.95" y="864.4" font-family='"Liberation Sans", Arial, sans-serif' font-size="10.8" font-weight="bold" fill="#e2e4ea" textLength="18.7" lengthAdjust="spacingAndGlyphs">May</text>
<text x="15.8" y="25.3" font-family='"Liberation Sans", Arial, sans-serif' font-size="11" fill="#e2e4ea" font-weight="bold" textLength="366.7" lengthAdjust="spacingAndGlyphs">Converge Information and Communications Technology Solutions, Inc., 1D, PSE</text>
<text x="389" y="25.3" font-family='"Liberation Sans", Arial, sans-serif' font-size="11" fill="#e2e4ea" font-weight="bold" textLength="7" lengthAdjust="spacingAndGlyphs">O</text>
<text x="396.7" y="25.3" font-family='"Liberation Sans", Arial, sans-serif' font-size="11" fill="#2f9382" textLength="24.1" lengthAdjust="spacingAndGlyphs">16.42</text>
<text x="427.5" y="25.3" font-family='"Liberation Sans", Arial, sans-serif' font-size="11" fill="#e2e4ea" font-weight="bold" textLength="7.5" lengthAdjust="spacingAndGlyphs">H</text>
<text x="435.8" y="25.3" font-family='"Liberation Sans", Arial, sans-serif' font-size="11" fill="#2f9382" textLength="24.2" lengthAdjust="spacingAndGlyphs">16.50</text>
<text x="466.7" y="25.3" font-family='"Liberation Sans", Arial, sans-serif' font-size="11" fill="#e2e4ea" font-weight="bold" textLength="5" lengthAdjust="spacingAndGlyphs">L</text>
<text x="472.5" y="25.3" font-family='"Liberation Sans", Arial, sans-serif' font-size="11" fill="#2f9382" textLength="25" lengthAdjust="spacingAndGlyphs">16.38</text>
<text x="504" y="25.3" font-family='"Liberation Sans", Arial, sans-serif' font-size="11" fill="#e2e4ea" font-weight="bold" textLength="6" lengthAdjust="spacingAndGlyphs">C</text>
<text x="510.8" y="25.3" font-family='"Liberation Sans", Arial, sans-serif' font-size="11" fill="#2f9382" textLength="24.2" lengthAdjust="spacingAndGlyphs">16.50</text>
<text x="541.7" y="25.3" font-family='"Liberation Sans", Arial, sans-serif' font-size="11" fill="#2f9382" textLength="68.3" lengthAdjust="spacingAndGlyphs">+0.08 (+0.49%)</text>
<text x="15.8" y="39.5" font-family='"Liberation Sans", Arial, sans-serif' font-size="11" fill="#e2e4ea" font-weight="bold" textLength="55" lengthAdjust="spacingAndGlyphs">Volume (20)</text>
<text x="77.5" y="39.5" font-family='"Liberation Sans", Arial, sans-serif' font-size="11" fill="#2f9382" textLength="32.2" lengthAdjust="spacingAndGlyphs">156.5K</text>
<g fill="#d8dbe2"><path d="M8.45 883H15.25V891.5H11.7V886H8.45z"/><circle cx="17.8" cy="884.7" r="1.35"/><path d="M20.9 883H24.6L21.8 891.5H18.1z"/></g>
<text x="29" y="892" font-family='"Liberation Sans", Arial, sans-serif' font-size="11.5" font-weight="bold" fill="#d8dbe2" textLength="60.6" lengthAdjust="spacingAndGlyphs">TradingView</text>
</svg></body></html>
